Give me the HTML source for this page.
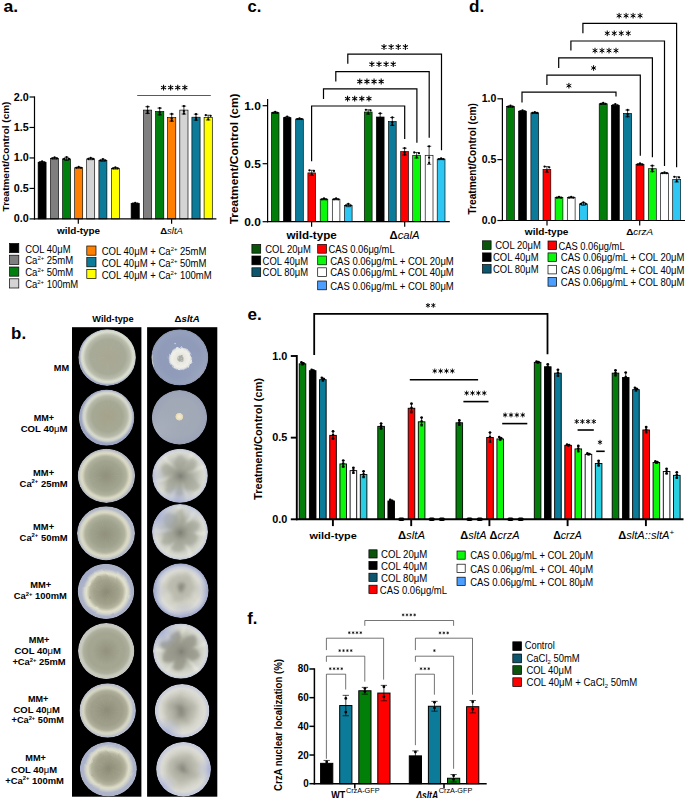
<!DOCTYPE html>
<html><head><meta charset="utf-8"><title>Figure</title>
<style>
html,body{margin:0;padding:0;background:#fff;}
body{width:685px;height:798px;overflow:hidden;}
svg{display:block;font-family:'Liberation Sans', sans-serif;}
</style></head><body>
<svg width="685" height="798" viewBox="0 0 685 798">
<defs>
<radialGradient id="w0a"><stop offset="0" stop-color="#aeb3c6"/><stop offset="0.8" stop-color="#aeb3c6"/><stop offset="1" stop-color="#a3a9c2"/></radialGradient>
<radialGradient id="w0t0" cx="-19.8" cy="19.8" r="16.8" gradientUnits="userSpaceOnUse"><stop offset="0" stop-color="#a2aac4" stop-opacity="0.8"/><stop offset="0.45" stop-color="#a2aac4" stop-opacity="0.36000000000000004"/><stop offset="1" stop-color="#a2aac4" stop-opacity="0"/></radialGradient>
<radialGradient id="w0c"><stop offset="0" stop-color="#a9a793"/><stop offset="0.04" stop-color="#a9a793"/><stop offset="0.5" stop-color="#a7aa97"/><stop offset="0.617" stop-color="#a7aa97"/><stop offset="0.786" stop-color="#b9bcab"/><stop offset="0.89" stop-color="#dadecf"/><stop offset="0.9420000000000001" stop-color="#dadecf" stop-opacity="0.85"/><stop offset="1" stop-color="#dadecf" stop-opacity="0"/></radialGradient>
<radialGradient id="w1a"><stop offset="0" stop-color="#a5acc4"/><stop offset="0.8" stop-color="#a5acc4"/><stop offset="1" stop-color="#9ba3c0"/></radialGradient>
<radialGradient id="w1t0" cx="-19.8" cy="19.8" r="16.8" gradientUnits="userSpaceOnUse"><stop offset="0" stop-color="#9ca5c4" stop-opacity="0.8"/><stop offset="0.45" stop-color="#9ca5c4" stop-opacity="0.36000000000000004"/><stop offset="1" stop-color="#9ca5c4" stop-opacity="0"/></radialGradient>
<radialGradient id="w1c"><stop offset="0" stop-color="#a5a38c"/><stop offset="0.04" stop-color="#a5a38c"/><stop offset="0.5" stop-color="#a5a893"/><stop offset="0.566" stop-color="#a5a893"/><stop offset="0.748" stop-color="#b6b9a7"/><stop offset="0.86" stop-color="#d6d9cc"/><stop offset="0.916" stop-color="#d6d9cc" stop-opacity="0.85"/><stop offset="1" stop-color="#d6d9cc" stop-opacity="0"/></radialGradient>
<radialGradient id="w2a"><stop offset="0" stop-color="#bcc0c6"/><stop offset="0.8" stop-color="#bcc0c6"/><stop offset="1" stop-color="#b2b6c0"/></radialGradient>
<radialGradient id="w2t0" cx="21.4" cy="-18.0" r="14.0" gradientUnits="userSpaceOnUse"><stop offset="0" stop-color="#b4bac8" stop-opacity="0.6"/><stop offset="0.45" stop-color="#b4bac8" stop-opacity="0.27"/><stop offset="1" stop-color="#b4bac8" stop-opacity="0"/></radialGradient>
<radialGradient id="w2c"><stop offset="0" stop-color="#92927e"/><stop offset="0.04" stop-color="#92927e"/><stop offset="0.5" stop-color="#a0a38e"/><stop offset="0.5449999999999999" stop-color="#a0a38e"/><stop offset="0.74" stop-color="#b0b29e"/><stop offset="0.86" stop-color="#dad9c4"/><stop offset="0.9199999999999999" stop-color="#dad9c4" stop-opacity="0.85"/><stop offset="1" stop-color="#dad9c4" stop-opacity="0"/></radialGradient>
<radialGradient id="w3a"><stop offset="0" stop-color="#b8bec9"/><stop offset="0.8" stop-color="#b8bec9"/><stop offset="1" stop-color="#b0b6c4"/></radialGradient>
<radialGradient id="w3t0" cx="24.2" cy="-14.0" r="16.8" gradientUnits="userSpaceOnUse"><stop offset="0" stop-color="#aeb6cc" stop-opacity="0.7"/><stop offset="0.45" stop-color="#aeb6cc" stop-opacity="0.315"/><stop offset="1" stop-color="#aeb6cc" stop-opacity="0"/></radialGradient>
<radialGradient id="w3c"><stop offset="0" stop-color="#92927e"/><stop offset="0.04" stop-color="#92927e"/><stop offset="0.5" stop-color="#9fa28d"/><stop offset="0.514" stop-color="#9fa28d"/><stop offset="0.722" stop-color="#b0b29e"/><stop offset="0.85" stop-color="#dad9c5"/><stop offset="0.9139999999999999" stop-color="#dad9c5" stop-opacity="0.85"/><stop offset="1" stop-color="#dad9c5" stop-opacity="0"/></radialGradient>
<radialGradient id="w4a"><stop offset="0" stop-color="#b0b6ca"/><stop offset="0.8" stop-color="#b0b6ca"/><stop offset="1" stop-color="#a8afc6"/></radialGradient>
<radialGradient id="w4t0" cx="-19.8" cy="-19.8" r="19.6" gradientUnits="userSpaceOnUse"><stop offset="0" stop-color="#9fa8c8" stop-opacity="0.7"/><stop offset="0.45" stop-color="#9fa8c8" stop-opacity="0.315"/><stop offset="1" stop-color="#9fa8c8" stop-opacity="0"/></radialGradient>
<radialGradient id="w4c"><stop offset="0" stop-color="#8e8d78"/><stop offset="0.04" stop-color="#8e8d78"/><stop offset="0.5" stop-color="#a2a28c"/><stop offset="0.443" stop-color="#a2a28c"/><stop offset="0.664" stop-color="#b4b49e"/><stop offset="0.8" stop-color="#e0e0cd"/><stop offset="0.8680000000000001" stop-color="#e0e0cd" stop-opacity="0.85"/><stop offset="1" stop-color="#e0e0cd" stop-opacity="0"/></radialGradient>
<radialGradient id="w5a"><stop offset="0" stop-color="#c6c8c6"/><stop offset="0.8" stop-color="#c6c8c6"/><stop offset="1" stop-color="#c0c3c6"/></radialGradient>
<radialGradient id="w5c"><stop offset="0" stop-color="#94937f"/><stop offset="0.04" stop-color="#94937f"/><stop offset="0.5" stop-color="#a4a692"/><stop offset="0.648" stop-color="#a4a692"/><stop offset="0.804" stop-color="#aeb09e"/><stop offset="0.9" stop-color="#c8cabc"/><stop offset="0.9480000000000001" stop-color="#c8cabc" stop-opacity="0.85"/><stop offset="1" stop-color="#c8cabc" stop-opacity="0"/></radialGradient>
<radialGradient id="w6a"><stop offset="0" stop-color="#c2c6cc"/><stop offset="0.8" stop-color="#c2c6cc"/><stop offset="1" stop-color="#b8bdca"/></radialGradient>
<radialGradient id="w6t0" cx="27.6" cy="4.9" r="16.8" gradientUnits="userSpaceOnUse"><stop offset="0" stop-color="#a8b2d0" stop-opacity="0.8"/><stop offset="0.45" stop-color="#a8b2d0" stop-opacity="0.36000000000000004"/><stop offset="1" stop-color="#a8b2d0" stop-opacity="0"/></radialGradient>
<radialGradient id="w6c"><stop offset="0" stop-color="#8f8e7a"/><stop offset="0.04" stop-color="#8f8e7a"/><stop offset="0.5" stop-color="#9e9e8a"/><stop offset="0.576" stop-color="#9e9e8a"/><stop offset="0.758" stop-color="#adad99"/><stop offset="0.87" stop-color="#d5d5c3"/><stop offset="0.926" stop-color="#d5d5c3" stop-opacity="0.85"/><stop offset="1" stop-color="#d5d5c3" stop-opacity="0"/></radialGradient>
<radialGradient id="w7a"><stop offset="0" stop-color="#b2b8cb"/><stop offset="0.8" stop-color="#b2b8cb"/><stop offset="1" stop-color="#aab1c8"/></radialGradient>
<radialGradient id="w7t0" cx="-26.3" cy="-9.6" r="16.8" gradientUnits="userSpaceOnUse"><stop offset="0" stop-color="#a4acce" stop-opacity="0.6"/><stop offset="0.45" stop-color="#a4acce" stop-opacity="0.27"/><stop offset="1" stop-color="#a4acce" stop-opacity="0"/></radialGradient>
<radialGradient id="w7c"><stop offset="0" stop-color="#8e8d78"/><stop offset="0.04" stop-color="#8e8d78"/><stop offset="0.5" stop-color="#a1a18c"/><stop offset="0.443" stop-color="#a1a18c"/><stop offset="0.664" stop-color="#b3b39e"/><stop offset="0.8" stop-color="#dcdcc9"/><stop offset="0.8680000000000001" stop-color="#dcdcc9" stop-opacity="0.85"/><stop offset="1" stop-color="#dcdcc9" stop-opacity="0"/></radialGradient>
<radialGradient id="s100a"><stop offset="0" stop-color="#909cb9"/><stop offset="0.7" stop-color="#8f9bb9"/><stop offset="0.92" stop-color="#95a0bc"/><stop offset="1" stop-color="#8893b1"/></radialGradient>
<radialGradient id="s100t" cx="21.4" cy="18.0" r="25.2" gradientUnits="userSpaceOnUse"><stop offset="0" stop-color="#a4acc0" stop-opacity="0.5"/><stop offset="0.45" stop-color="#a4acc0" stop-opacity="0.225"/><stop offset="1" stop-color="#a4acc0" stop-opacity="0"/></radialGradient>
<radialGradient id="s100c"><stop offset="0" stop-color="#c4c6be"/><stop offset="0.09" stop-color="#a9ada6"/><stop offset="0.2" stop-color="#abaea7"/><stop offset="0.3" stop-color="#e6e6de"/><stop offset="0.7" stop-color="#f0f0e8"/><stop offset="0.85" stop-color="#e8e9e6" stop-opacity="0.92"/><stop offset="0.94" stop-color="#d2d6e0" stop-opacity="0.5"/><stop offset="1" stop-color="#a0aac6" stop-opacity="0"/></radialGradient>
<radialGradient id="s101a"><stop offset="0" stop-color="#a3aab7"/><stop offset="0.7" stop-color="#a1a8b6"/><stop offset="0.93" stop-color="#9ca4b7"/><stop offset="1" stop-color="#929ab0"/></radialGradient>
<radialGradient id="s101t" cx="-24.2" cy="14.0" r="25.2" gradientUnits="userSpaceOnUse"><stop offset="0" stop-color="#b0b6c0" stop-opacity="0.7"/><stop offset="0.45" stop-color="#b0b6c0" stop-opacity="0.315"/><stop offset="1" stop-color="#b0b6c0" stop-opacity="0"/></radialGradient>
<radialGradient id="s101c"><stop offset="0" stop-color="#f4eed8"/><stop offset="0.55" stop-color="#ece2bf"/><stop offset="0.85" stop-color="#e2d8b8"/><stop offset="1" stop-color="#c8c4b8" stop-opacity="0"/></radialGradient>
<radialGradient id="s102a"><stop offset="0" stop-color="#7e7e74"/><stop offset="0.2" stop-color="#96978b"/><stop offset="0.5" stop-color="#b5b7ab"/><stop offset="0.74" stop-color="#cfd0c6"/><stop offset="0.87" stop-color="#d8dad3"/><stop offset="0.94" stop-color="#cfd3da"/><stop offset="1" stop-color="#bcc2d6"/></radialGradient>
<radialGradient id="s102k"><stop offset="0" stop-color="#7e7e74" stop-opacity="0.9"/><stop offset="0.5" stop-color="#8c8c82" stop-opacity="0.5"/><stop offset="1" stop-color="#9a9a90" stop-opacity="0"/></radialGradient>
<radialGradient id="s102t0" cx="-2.4" cy="27.9" r="19.6" gradientUnits="userSpaceOnUse"><stop offset="0" stop-color="#a3acd3" stop-opacity="0.9"/><stop offset="0.45" stop-color="#a3acd3" stop-opacity="0.405"/><stop offset="1" stop-color="#a3acd3" stop-opacity="0"/></radialGradient>
<radialGradient id="s102t1" cx="-28.0" cy="0.0" r="14.0" gradientUnits="userSpaceOnUse"><stop offset="0" stop-color="#aeb6dc" stop-opacity="0.6"/><stop offset="0.45" stop-color="#aeb6dc" stop-opacity="0.27"/><stop offset="1" stop-color="#aeb6dc" stop-opacity="0"/></radialGradient>
<radialGradient id="s103a"><stop offset="0" stop-color="#7e7e74"/><stop offset="0.2" stop-color="#96978b"/><stop offset="0.5" stop-color="#b5b7ab"/><stop offset="0.74" stop-color="#cfd0c6"/><stop offset="0.87" stop-color="#d8dad3"/><stop offset="0.94" stop-color="#cfd3da"/><stop offset="1" stop-color="#bcc2d6"/></radialGradient>
<radialGradient id="s103k"><stop offset="0" stop-color="#7e7e74" stop-opacity="0.9"/><stop offset="0.5" stop-color="#8c8c82" stop-opacity="0.5"/><stop offset="1" stop-color="#9a9a90" stop-opacity="0"/></radialGradient>
<radialGradient id="s103t0" cx="-22.9" cy="-16.1" r="22.4" gradientUnits="userSpaceOnUse"><stop offset="0" stop-color="#a3acd3" stop-opacity="0.9"/><stop offset="0.45" stop-color="#a3acd3" stop-opacity="0.405"/><stop offset="1" stop-color="#a3acd3" stop-opacity="0"/></radialGradient>
<radialGradient id="s103t1" cx="14.0" cy="-24.2" r="14.0" gradientUnits="userSpaceOnUse"><stop offset="0" stop-color="#b4bcdc" stop-opacity="0.5"/><stop offset="0.45" stop-color="#b4bcdc" stop-opacity="0.225"/><stop offset="1" stop-color="#b4bcdc" stop-opacity="0"/></radialGradient>
<radialGradient id="s104a"><stop offset="0" stop-color="#cfcfc5"/><stop offset="0.6" stop-color="#d6d6cc"/><stop offset="0.74" stop-color="#dcdcd6"/><stop offset="0.86" stop-color="#c8ccda"/><stop offset="1" stop-color="#9aa3c6"/></radialGradient>
<radialGradient id="s104c"><stop offset="0" stop-color="#84847a"/><stop offset="0.12" stop-color="#8f8f84"/><stop offset="0.32" stop-color="#b9b9ad"/><stop offset="0.62" stop-color="#b8b8ac" stop-opacity="0.85"/><stop offset="1" stop-color="#d2d2c8" stop-opacity="0"/></radialGradient>
<radialGradient id="s104t0" cx="-28.0" cy="0.0" r="14.0" gradientUnits="userSpaceOnUse"><stop offset="0" stop-color="#9ca5c4" stop-opacity="0.6"/><stop offset="0.45" stop-color="#9ca5c4" stop-opacity="0.27"/><stop offset="1" stop-color="#9ca5c4" stop-opacity="0"/></radialGradient>
<radialGradient id="s104t1" cx="4.9" cy="27.6" r="16.8" gradientUnits="userSpaceOnUse"><stop offset="0" stop-color="#9ca5c4" stop-opacity="0.6"/><stop offset="0.45" stop-color="#9ca5c4" stop-opacity="0.27"/><stop offset="1" stop-color="#9ca5c4" stop-opacity="0"/></radialGradient>
<radialGradient id="s104t2" cx="28.0" cy="0.0" r="14.0" gradientUnits="userSpaceOnUse"><stop offset="0" stop-color="#9ca5c4" stop-opacity="0.55"/><stop offset="0.45" stop-color="#9ca5c4" stop-opacity="0.24750000000000003"/><stop offset="1" stop-color="#9ca5c4" stop-opacity="0"/></radialGradient>
<radialGradient id="s105a"><stop offset="0" stop-color="#7e7e74"/><stop offset="0.2" stop-color="#96978b"/><stop offset="0.5" stop-color="#b5b7ab"/><stop offset="0.74" stop-color="#cfd0c6"/><stop offset="0.87" stop-color="#d8dad3"/><stop offset="0.94" stop-color="#cfd3da"/><stop offset="1" stop-color="#bcc2d6"/></radialGradient>
<radialGradient id="s105k"><stop offset="0" stop-color="#7e7e74" stop-opacity="0.9"/><stop offset="0.5" stop-color="#8c8c82" stop-opacity="0.5"/><stop offset="1" stop-color="#9a9a90" stop-opacity="0"/></radialGradient>
<radialGradient id="s105t0" cx="-19.8" cy="-19.8" r="19.6" gradientUnits="userSpaceOnUse"><stop offset="0" stop-color="#a3acd3" stop-opacity="0.9"/><stop offset="0.45" stop-color="#a3acd3" stop-opacity="0.405"/><stop offset="1" stop-color="#a3acd3" stop-opacity="0"/></radialGradient>
<radialGradient id="s106a"><stop offset="0" stop-color="#cfcfc5"/><stop offset="0.6" stop-color="#d6d6cc"/><stop offset="0.83" stop-color="#dcdcd6"/><stop offset="0.95" stop-color="#c8ccda"/><stop offset="1" stop-color="#cfd2da"/></radialGradient>
<radialGradient id="s106c"><stop offset="0" stop-color="#85857b"/><stop offset="0.12" stop-color="#8f8f84"/><stop offset="0.32" stop-color="#a6a69a"/><stop offset="0.62" stop-color="#b8b8ac" stop-opacity="0.85"/><stop offset="1" stop-color="#d2d2c8" stop-opacity="0"/></radialGradient>
<radialGradient id="s106t0" cx="-16.1" cy="22.9" r="16.8" gradientUnits="userSpaceOnUse"><stop offset="0" stop-color="#a3acd3" stop-opacity="0.85"/><stop offset="0.45" stop-color="#a3acd3" stop-opacity="0.3825"/><stop offset="1" stop-color="#a3acd3" stop-opacity="0"/></radialGradient>
<radialGradient id="s107a"><stop offset="0" stop-color="#cfcfc5"/><stop offset="0.6" stop-color="#d6d6cc"/><stop offset="0.81" stop-color="#dcdcd6"/><stop offset="0.93" stop-color="#c8ccda"/><stop offset="1" stop-color="#c4c9da"/></radialGradient>
<radialGradient id="s107c"><stop offset="0" stop-color="#7e7e74"/><stop offset="0.12" stop-color="#8f8f84"/><stop offset="0.32" stop-color="#aaaa9e"/><stop offset="0.62" stop-color="#b8b8ac" stop-opacity="0.85"/><stop offset="1" stop-color="#d2d2c8" stop-opacity="0"/></radialGradient>
<radialGradient id="s107t0" cx="28.0" cy="0.0" r="15.4" gradientUnits="userSpaceOnUse"><stop offset="0" stop-color="#a3acd3" stop-opacity="0.8"/><stop offset="0.45" stop-color="#a3acd3" stop-opacity="0.36000000000000004"/><stop offset="1" stop-color="#a3acd3" stop-opacity="0"/></radialGradient>
<radialGradient id="s107t1" cx="-21.4" cy="18.0" r="14.0" gradientUnits="userSpaceOnUse"><stop offset="0" stop-color="#a8b0dc" stop-opacity="0.7"/><stop offset="0.45" stop-color="#a8b0dc" stop-opacity="0.315"/><stop offset="1" stop-color="#a8b0dc" stop-opacity="0"/></radialGradient>
<clipPath id="unitclip"><circle cx="0" cy="0" r="28"/></clipPath>
<filter id="wav" color-interpolation-filters="sRGB" x="-20%" y="-20%" width="140%" height="140%"><feTurbulence type="fractalNoise" baseFrequency="0.075" numOctaves="1" seed="4" result="tn"/><feDisplacementMap in="SourceGraphic" in2="tn" scale="3.4" xChannelSelector="R" yChannelSelector="G"/><feGaussianBlur stdDeviation="0.5"/></filter>
<filter id="frz" color-interpolation-filters="sRGB" x="-30%" y="-30%" width="160%" height="160%"><feTurbulence type="fractalNoise" baseFrequency="0.3" numOctaves="2" seed="9" result="tn"/><feDisplacementMap in="SourceGraphic" in2="tn" scale="3.2" xChannelSelector="R" yChannelSelector="G"/><feGaussianBlur stdDeviation="0.45"/></filter>
<filter id="b05" x="-50%" y="-50%" width="200%" height="200%"><feGaussianBlur stdDeviation="0.5"/></filter>
<filter id="org0" color-interpolation-filters="sRGB" x="-20%" y="-20%" width="140%" height="140%"><feTurbulence type="fractalNoise" baseFrequency="0.06" numOctaves="2" seed="3" result="tn"/><feDisplacementMap in="SourceGraphic" in2="tn" scale="9" xChannelSelector="R" yChannelSelector="G"/><feGaussianBlur stdDeviation="1.6"/></filter>
<filter id="org1" color-interpolation-filters="sRGB" x="-20%" y="-20%" width="140%" height="140%"><feTurbulence type="fractalNoise" baseFrequency="0.06" numOctaves="2" seed="10" result="tn"/><feDisplacementMap in="SourceGraphic" in2="tn" scale="9" xChannelSelector="R" yChannelSelector="G"/><feGaussianBlur stdDeviation="1.6"/></filter>
<filter id="org2" color-interpolation-filters="sRGB" x="-20%" y="-20%" width="140%" height="140%"><feTurbulence type="fractalNoise" baseFrequency="0.06" numOctaves="2" seed="17" result="tn"/><feDisplacementMap in="SourceGraphic" in2="tn" scale="9" xChannelSelector="R" yChannelSelector="G"/><feGaussianBlur stdDeviation="1.6"/></filter>
<filter id="b15" x="-20%" y="-20%" width="140%" height="140%"><feGaussianBlur stdDeviation="1.6"/></filter>
</defs>
<rect x="0" y="0" width="685" height="798" fill="#ffffff"/>
<text x="11.10" y="338.60" font-size="16" font-weight="bold" font-style="normal" text-anchor="start" fill="#000" textLength="15.00" lengthAdjust="spacingAndGlyphs" >b.</text>
<text x="92.30" y="322.40" font-size="9.3" font-weight="bold" font-style="normal" text-anchor="start" fill="#000" textLength="41.30" lengthAdjust="spacingAndGlyphs" >Wild-type</text>
<text x="174.60" y="322.40" font-size="9.3" font-weight="bold" font-style="normal" text-anchor="start" fill="#000" textLength="25.20" lengthAdjust="spacingAndGlyphs" ><tspan dy="0.00">Δ</tspan><tspan dy="0.00" font-style="italic">sltA</tspan></text>
<rect x="72.0" y="327.2" width="69.4" height="469.5" fill="#000"/>
<rect x="147.1" y="327.2" width="70.2" height="469.5" fill="#000"/>
<g transform="translate(107.10 357.60) scale(1.0286 1.0107)"><g clip-path="url(#unitclip)">
<circle cx="0" cy="0" r="28" fill="url(#w0a)"/>
<circle cx="0" cy="0" r="28" fill="url(#w0t0)"/>
<circle cx="0.8" cy="-0.8" r="27.6" fill="url(#w0c)"/>
<path d="M4.6 -6.4L10.9 -15.8M0.5 4.5L-0.2 17.1M1.7 -4.8L4.7 -18.9M-5.9 -4.7L-15.4 -10.1M-0.6 5.9L-3.1 18.3M0.8 6.9L0.7 21.2M3.6 -7.9L7.2 -16.9M-0.2 -8.4L-1.7 -20.5M-2.0 -0.3L-17.1 2.4M-5.1 -5.8L-16.0 -14.8M-6.6 0.3L-16.0 1.6M2.7 -6.0L6.0 -15.2M-0.1 -5.3L-3.2 -21.3M-0.3 -2.7L-8.3 -17.0M3.3 -3.5L12.5 -13.7M3.1 -3.2L13.9 -14.7M1.4 7.3L2.3 19.9M-1.8 0.1L-15.7 4.8M-7.1 -1.2L-15.1 -1.6M-5.4 -2.9L-17.2 -6.8M3.0 -5.8L9.4 -20.9M-3.8 -4.3L-13.7 -11.8" stroke="#c4c6b4" stroke-width="0.45" opacity="0.13" fill="none"/>
</g></g>
<g transform="translate(106.60 417.60) scale(0.9929 1.0071)"><g clip-path="url(#unitclip)">
<circle cx="0" cy="0" r="28" fill="url(#w1a)"/>
<circle cx="0" cy="0" r="28" fill="url(#w1t0)"/>
<circle cx="0.8" cy="-1.2" r="26.6" fill="url(#w1c)"/>
<path d="M5.5 4.1L13.9 13.5M0.6 3.8L0.2 16.4M-3.1 -6.7L-8.0 -13.6M7.7 0.0L18.0 1.9M1.0 -3.3L2.2 -18.7M0.2 -4.6L-2.9 -21.8M2.7 -2.5L12.8 -9.8M-6.6 -3.2L-15.8 -5.6M1.8 3.3L3.9 13.3M1.6 3.4L4.0 16.4M1.2 2.3L2.5 14.8M-2.9 -0.2L-13.5 2.5M3.6 -5.8L10.7 -17.3M3.9 6.1L8.8 17.5M3.8 1.6L14.9 12.2M-1.0 -8.6L-3.4 -18.1M3.7 -6.5L8.8 -15.8M-5.4 -5.0L-16.5 -11.8M-4.8 -1.4L-14.1 -1.7M1.1 5.6L1.6 16.2M3.3 3.5L9.8 15.9M-1.2 -5.0L-7.2 -16.8" stroke="#c4c6b4" stroke-width="0.45" opacity="0.13" fill="none"/>
</g></g>
<g transform="translate(106.40 475.80) scale(1.0250 0.9679)"><g clip-path="url(#unitclip)">
<circle cx="0" cy="0" r="28" fill="url(#w2a)"/>
<circle cx="0" cy="0" r="28" fill="url(#w2t0)"/>
<circle cx="-0.6" cy="0.0" r="27.0" fill="url(#w2c)"/>
<path d="M6.9 -2.1L14.1 -4.2M5.5 3.6L16.5 10.1M-2.5 -3.5L-9.8 -16.6M-5.0 -3.5L-13.1 -9.9M-4.7 1.9L-18.5 8.3M7.2 -0.3L17.9 -0.6M-4.1 1.3L-14.8 5.1M4.2 0.8L16.1 2.9M-6.0 5.1L-14.0 12.6M-3.9 -1.3L-14.5 -5.6M-2.0 2.6L-8.9 16.3M5.6 -0.1L15.5 -0.1M4.8 -4.3L14.9 -12.3M5.0 -3.7L16.2 -11.2M-5.4 6.3L-13.6 17.0M2.9 5.6L9.8 16.7M-5.8 1.3L-18.2 4.4M4.0 -2.3L17.6 -9.3M-5.1 5.9L-13.3 16.6M-6.0 1.3L-21.0 5.1M-1.4 -5.0L-3.3 -16.1M-3.5 5.6L-7.8 14.2" stroke="#c4c6b4" stroke-width="0.45" opacity="0.13" fill="none"/>
</g></g>
<g transform="translate(106.00 533.30) scale(1.0357 0.9679)"><g clip-path="url(#unitclip)">
<circle cx="0" cy="0" r="28" fill="url(#w3a)"/>
<circle cx="0" cy="0" r="28" fill="url(#w3t0)"/>
<circle cx="-1.0" cy="0.8" r="26.2" fill="url(#w3c)"/>
<path d="M-0.6 6.0L0.3 17.6M-5.5 -2.7L-12.8 -8.2M5.9 1.4L15.1 2.1M-0.2 8.6L0.7 18.2M1.5 -3.3L8.6 -15.1M2.4 5.5L10.7 17.1M-7.3 -0.1L-19.6 -1.9M5.0 3.3L15.8 8.0M-1.7 3.0L-7.4 19.8M-7.1 1.9L-20.9 4.2M-2.7 -6.4L-4.8 -15.8M0.5 -3.6L5.5 -18.7M0.9 -1.0L10.1 -9.8M0.6 8.3L2.6 17.7M-3.7 -1.9L-13.4 -11.9M-4.1 3.5L-14.7 12.8M-7.3 -2.9L-17.3 -8.7M5.3 -2.2L17.9 -8.2M-2.4 -1.9L-10.5 -16.8M6.1 -0.8L16.7 -3.2M-1.7 -2.4L-5.5 -18.5M-4.3 -0.9L-14.3 -5.8" stroke="#c4c6b4" stroke-width="0.45" opacity="0.13" fill="none"/>
</g></g>
<g transform="translate(106.00 591.40) scale(1.0107 0.9893)"><g clip-path="url(#unitclip)">
<circle cx="0" cy="0" r="28" fill="url(#w4a)"/>
<circle cx="0" cy="0" r="28" fill="url(#w4t0)"/>
<circle cx="0.4" cy="0.8" r="24.6" fill="url(#w4c)" filter="url(#wav)"/>
<path d="M0.6 3.3L1.8 16.7M1.7 2.7L9.4 14.0M5.9 -2.3L16.3 -8.2M1.3 5.6L3.1 15.8M1.6 3.0L7.3 13.9M6.2 -2.0L17.0 -7.3M1.3 -2.1L5.2 -13.9M-3.7 -3.4L-12.7 -12.6M2.2 -0.9L13.0 -11.0M-1.8 -3.3L-6.5 -12.1M-2.0 1.2L-18.6 4.0M3.7 -2.9L10.6 -10.7M4.7 -1.9L16.3 -9.5M3.1 -3.1L9.7 -12.3M-3.1 -1.7L-11.4 -7.7M-1.8 6.8L-4.3 13.8M5.5 2.3L15.0 5.2M-4.0 -0.2L-14.9 -2.6M3.4 0.7L16.5 0.5M2.0 6.0L4.9 15.4M-3.3 5.5L-9.2 13.0M-6.0 -1.7L-12.8 -4.3" stroke="#c4c6b4" stroke-width="0.45" opacity="0.13" fill="none"/>
</g></g>
<g transform="translate(106.20 651.10) scale(1.0071 1.0000)"><g clip-path="url(#unitclip)">
<circle cx="0" cy="0" r="28" fill="url(#w5a)"/>
<circle cx="0.0" cy="0.0" r="27.8" fill="url(#w5c)"/>
<path d="M-4.8 -4.7L-14.9 -14.5M6.3 -2.4L20.3 -7.7M5.0 0.9L21.5 4.0M-4.6 -6.2L-9.5 -12.9M-3.7 0.7L-18.7 3.7M-2.1 -1.0L-15.0 -7.5M-1.4 7.7L-3.8 20.3M3.8 6.0L8.7 13.7M-2.2 -2.0L-11.3 -10.3M2.4 -2.5L11.6 -12.1M7.5 -0.8L17.2 -1.9M5.4 -1.3L19.4 -4.8M2.2 7.7L5.6 19.3M7.5 -1.6L17.0 -3.6M-2.1 2.5L-10.5 12.5M3.7 1.6L17.9 7.8M6.4 0.1L17.6 0.4M-2.7 6.7L-6.9 17.3M-2.1 4.7L-8.1 18.5M7.7 2.9L14.5 5.4M-0.0 -7.4L-0.0 -15.4M1.0 -4.3L4.5 -18.8" stroke="#c4c6b4" stroke-width="0.45" opacity="0.13" fill="none"/>
</g></g>
<g transform="translate(107.70 710.50) scale(1.0071 0.9714)"><g clip-path="url(#unitclip)">
<circle cx="0" cy="0" r="28" fill="url(#w6a)"/>
<circle cx="0" cy="0" r="28" fill="url(#w6t0)"/>
<circle cx="-1.0" cy="0.0" r="26.6" fill="url(#w6c)"/>
<path d="M0.9 -6.7L3.8 -17.2M-1.2 2.1L-2.4 19.0M-7.5 1.2L-17.8 3.2M-0.5 -3.7L1.5 -19.8M-1.6 -4.5L-3.3 -18.1M-2.3 -3.0L-8.6 -16.7M0.2 -3.5L5.8 -18.8M-3.8 -6.5L-7.6 -15.5M4.7 3.8L15.7 11.0M-3.5 0.9L-16.0 5.4M-3.5 -2.9L-14.9 -15.7M-3.8 -1.7L-17.1 -10.0M-5.8 5.8L-14.2 15.9M-6.9 -0.5L-20.2 -1.8M1.7 -7.4L4.1 -13.9M-4.6 4.3L-11.7 12.7M-3.2 -1.4L-18.4 -10.9M-3.8 -0.4L-19.8 -3.0M-2.2 3.0L-7.8 16.5M1.2 2.6L12.2 15.6M-1.7 -2.1L-7.3 -18.8M3.1 0.4L19.5 2.2" stroke="#c4c6b4" stroke-width="0.45" opacity="0.13" fill="none"/>
</g></g>
<g transform="translate(108.40 769.20) scale(1.0179 0.9750)"><g clip-path="url(#unitclip)">
<circle cx="0" cy="0" r="28" fill="url(#w7a)"/>
<circle cx="0" cy="0" r="28" fill="url(#w7t0)"/>
<circle cx="0.0" cy="-0.8" r="25.0" fill="url(#w7c)" filter="url(#wav)"/>
<path d="M-1.3 1.7L-8.0 15.1M4.4 1.4L14.4 6.2M4.5 0.9L13.1 4.2M-2.2 0.2L-13.1 5.0M-5.8 2.2L-12.9 5.8M0.9 4.6L3.3 18.6M-3.7 -2.7L-17.6 -10.0M6.4 1.1L14.9 3.7M1.6 1.3L9.7 11.5M1.2 -3.5L7.0 -16.7M-2.6 -3.9L-11.0 -14.0M2.1 0.1L13.9 5.0M-1.8 -4.7L-6.7 -15.0M-3.9 -3.1L-13.4 -8.8M1.6 -6.4L4.2 -15.5M-4.4 -3.0L-17.2 -9.5M-0.5 -4.4L-2.6 -20.5M3.2 2.1L13.6 11.7M2.7 3.0L8.1 10.6M-3.1 -6.2L-8.5 -15.9M2.6 -3.4L12.8 -13.6M-4.3 -3.7L-13.8 -10.1" stroke="#c4c6b4" stroke-width="0.45" opacity="0.13" fill="none"/>
</g></g>
<g transform="translate(179.80 357.40) scale(1.0179 1.0071)"><g clip-path="url(#unitclip)">
<circle cx="0" cy="0" r="28" fill="url(#s100a)"/>
<circle cx="0" cy="0" r="28" fill="url(#s100t)"/>
<path d="M-27.15 -2.4 A27.3 27.3 0 0 0 -25.9 8.6" stroke="#ece8d4" stroke-width="0.8" fill="none" opacity="0.75" stroke-linecap="round"/>
<circle cx="0.6" cy="1.2" r="12.2" fill="url(#s100c)" filter="url(#frz)"/>
<circle cx="-4.6" cy="-13.7" r="0.7" fill="#e4e8f0"/>
</g></g>
<g transform="translate(179.50 417.40) scale(0.9893 0.9750)"><g clip-path="url(#unitclip)">
<circle cx="0" cy="0" r="28" fill="url(#s101a)"/>
<circle cx="0" cy="0" r="28" fill="url(#s101t)"/>
<circle cx="-0.2" cy="-0.7" r="4.3" fill="url(#s101c)"/>
</g></g>
<g transform="translate(180.10 475.80) scale(0.9929 0.9643)"><g clip-path="url(#unitclip)">
<circle cx="0" cy="0" r="28" fill="url(#s102a)"/>
<g filter="url(#org0)">
<ellipse cx="0.6" cy="10.9" rx="10.3" ry="6.3" transform="rotate(86.9 0.6 10.9)" fill="#a2a598" opacity="0.6"/>
<polygon points="-2.1,5.2 -8.2,24.4 -11.0,23.3" fill="#ecece2" opacity="0.8"/>
<ellipse cx="-7.9" cy="8.9" rx="9.5" ry="5.5" transform="rotate(131.7 -7.9 8.9)" fill="#a2a598" opacity="0.6"/>
<polygon points="-5.5,1.2 -24.8,7.1 -25.4,4.1" fill="#ecece2" opacity="0.8"/>
<ellipse cx="-10.9" cy="-5.0" rx="10.0" ry="6.3" transform="rotate(204.8 -10.9 -5.0)" fill="#a2a598" opacity="0.6"/>
<polygon points="-3.5,-4.3 -17.5,-18.9 -15.1,-20.9" fill="#ecece2" opacity="0.8"/>
<ellipse cx="-0.1" cy="-12.0" rx="10.1" ry="6.5" transform="rotate(269.5 -0.1 -12.0)" fill="#a2a598" opacity="0.6"/>
<polygon points="2.9,-4.8 12.1,-22.7 14.7,-21.1" fill="#ecece2" opacity="0.8"/>
<ellipse cx="8.1" cy="-8.6" rx="10.3" ry="5.6" transform="rotate(313.1 8.1 -8.6)" fill="#a2a598" opacity="0.6"/>
<polygon points="5.2,-2.1 23.2,-11.2 24.4,-8.3" fill="#ecece2" opacity="0.8"/>
<ellipse cx="9.0" cy="6.6" rx="10.6" ry="6.8" transform="rotate(396.1 9.0 6.6)" fill="#a2a598" opacity="0.6"/>
<polygon points="2.0,5.2 10.8,23.4 8.0,24.5" fill="#ecece2" opacity="0.8"/>
</g>
<circle cx="0.5" cy="0.5" r="9" fill="url(#s102k)"/>
<circle cx="0" cy="0" r="28" fill="url(#s102t0)"/>
<circle cx="0" cy="0" r="28" fill="url(#s102t1)"/>
</g></g>
<g transform="translate(180.00 532.00) scale(1.0000 1.0000)"><g clip-path="url(#unitclip)">
<circle cx="0" cy="0" r="28" fill="url(#s103a)"/>
<g filter="url(#org2)">
<ellipse cx="-7.5" cy="-9.2" rx="11.1" ry="6.5" transform="rotate(231.1 -7.5 -9.2)" fill="#a2a598" opacity="0.6"/>
<polygon points="-0.4,-5.6 -3.4,-25.5 -0.3,-25.8" fill="#ecece2" opacity="0.8"/>
<ellipse cx="0.1" cy="-11.1" rx="11.1" ry="6.3" transform="rotate(270.6 0.1 -11.1)" fill="#a2a598" opacity="0.6"/>
<polygon points="3.2,-4.6 13.6,-21.9 16.1,-20.1" fill="#ecece2" opacity="0.8"/>
<ellipse cx="9.9" cy="-5.0" rx="9.5" ry="6.1" transform="rotate(333.1 9.9 -5.0)" fill="#a2a598" opacity="0.6"/>
<polygon points="5.6,0.4 25.8,0.2 25.5,3.3" fill="#ecece2" opacity="0.8"/>
<ellipse cx="9.1" cy="5.3" rx="9.6" ry="6.8" transform="rotate(390.2 9.1 5.3)" fill="#a2a598" opacity="0.6"/>
<polygon points="2.5,5.0 13.0,22.3 10.2,23.7" fill="#ecece2" opacity="0.8"/>
<ellipse cx="-0.9" cy="11.8" rx="9.3" ry="6.3" transform="rotate(454.4 -0.9 11.8)" fill="#a2a598" opacity="0.6"/>
<polygon points="-2.8,4.8 -11.6,23.0 -14.2,21.5" fill="#ecece2" opacity="0.8"/>
<ellipse cx="-10.4" cy="6.0" rx="9.4" ry="5.5" transform="rotate(509.9 -10.4 6.0)" fill="#a2a598" opacity="0.6"/>
<polygon points="-5.6,-0.5 -25.7,-0.9 -25.5,-4.0" fill="#ecece2" opacity="0.8"/>
</g>
<circle cx="0.5" cy="0.5" r="9" fill="url(#s103k)"/>
<circle cx="0" cy="0" r="28" fill="url(#s103t0)"/>
<circle cx="0" cy="0" r="28" fill="url(#s103t1)"/>
</g></g>
<g transform="translate(180.80 590.60) scale(0.9929 0.9750)"><g clip-path="url(#unitclip)">
<circle cx="0" cy="0" r="28" fill="url(#s104a)"/>
<circle cx="0.0" cy="-2.6" r="19.0" fill="url(#s104c)" filter="url(#org1)"/>
<circle cx="0" cy="0" r="28" fill="url(#s104t0)"/>
<circle cx="0" cy="0" r="28" fill="url(#s104t1)"/>
<circle cx="0" cy="0" r="28" fill="url(#s104t2)"/>
</g></g>
<g transform="translate(180.80 651.10) scale(0.9929 0.9893)"><g clip-path="url(#unitclip)">
<circle cx="0" cy="0" r="28" fill="url(#s105a)"/>
<g filter="url(#org2)">
<ellipse cx="-0.9" cy="10.3" rx="10.5" ry="5.2" transform="rotate(94.8 -0.9 10.3)" fill="#969689" opacity="0.78"/>
<polygon points="-3.0,4.8 -12.3,22.6 -14.9,21.0" fill="#ecece2" opacity="0.8"/>
<ellipse cx="-9.6" cy="4.3" rx="10.4" ry="5.9" transform="rotate(155.9 -9.6 4.3)" fill="#969689" opacity="0.78"/>
<polygon points="-5.6,-0.5 -25.7,-0.9 -25.5,-3.9" fill="#ecece2" opacity="0.8"/>
<ellipse cx="-9.8" cy="-3.8" rx="10.8" ry="5.2" transform="rotate(201.4 -9.8 -3.8)" fill="#969689" opacity="0.78"/>
<polygon points="-3.7,-4.2 -18.2,-18.2 -15.9,-20.2" fill="#ecece2" opacity="0.8"/>
<ellipse cx="-4.0" cy="-9.9" rx="9.9" ry="6.8" transform="rotate(247.8 -4.0 -9.9)" fill="#969689" opacity="0.78"/>
<polygon points="0.6,-5.6 1.3,-25.7 4.4,-25.4" fill="#ecece2" opacity="0.8"/>
<ellipse cx="6.9" cy="-8.1" rx="11.2" ry="5.2" transform="rotate(310.5 6.9 -8.1)" fill="#969689" opacity="0.78"/>
<polygon points="5.3,-1.7 24.0,-9.5 24.9,-6.5" fill="#ecece2" opacity="0.8"/>
<ellipse cx="11.0" cy="3.6" rx="9.7" ry="6.4" transform="rotate(378.1 11.0 3.6)" fill="#969689" opacity="0.78"/>
<polygon points="3.7,4.2 18.3,18.1 16.0,20.2" fill="#ecece2" opacity="0.8"/>
</g>
<circle cx="0.5" cy="0.5" r="9" fill="url(#s105k)"/>
<circle cx="0" cy="0" r="28" fill="url(#s105t0)"/>
</g></g>
<g transform="translate(182.10 710.90) scale(0.9750 0.9607)"><g clip-path="url(#unitclip)">
<circle cx="0" cy="0" r="28" fill="url(#s106a)"/>
<circle cx="-1.5" cy="-1.0" r="22.5" fill="url(#s106c)" filter="url(#org2)"/>
<circle cx="0" cy="0" r="28" fill="url(#s106t0)"/>
</g></g>
<g transform="translate(183.50 769.30) scale(0.9786 0.9786)"><g clip-path="url(#unitclip)">
<circle cx="0" cy="0" r="28" fill="url(#s107a)"/>
<circle cx="-1.0" cy="0.0" r="22.0" fill="url(#s107c)" filter="url(#org0)"/>
<circle cx="0" cy="0" r="28" fill="url(#s107t0)"/>
<circle cx="0" cy="0" r="28" fill="url(#s107t1)"/>
</g></g>
<text x="53.80" y="370.80" font-size="9.3" font-weight="bold" font-style="normal" text-anchor="start" fill="#000" textLength="15.30" lengthAdjust="spacingAndGlyphs" >MM</text>
<text x="33.70" y="420.60" font-size="9.3" font-weight="bold" font-style="normal" text-anchor="start" fill="#000" textLength="20.40" lengthAdjust="spacingAndGlyphs" >MM+</text>
<text x="20.70" y="431.50" font-size="9.3" font-weight="bold" font-style="normal" text-anchor="start" fill="#000" textLength="46.90" lengthAdjust="spacingAndGlyphs" ><tspan dy="0.00">COL 40</tspan><tspan dy="0.00" font-weight="normal">μ</tspan><tspan dy="0.00">M</tspan></text>
<text x="33.10" y="476.10" font-size="9.3" font-weight="bold" font-style="normal" text-anchor="start" fill="#000" textLength="21.00" lengthAdjust="spacingAndGlyphs" >MM+</text>
<text x="19.60" y="486.80" font-size="9.3" font-weight="bold" font-style="normal" text-anchor="start" fill="#000" textLength="48.00" lengthAdjust="spacingAndGlyphs" ><tspan dy="0.00">Ca</tspan><tspan dy="-3.53" font-size="5.77">2+</tspan><tspan dy="3.53"> 25mM</tspan></text>
<text x="33.10" y="529.90" font-size="9.3" font-weight="bold" font-style="normal" text-anchor="start" fill="#000" textLength="21.00" lengthAdjust="spacingAndGlyphs" >MM+</text>
<text x="19.60" y="540.60" font-size="9.3" font-weight="bold" font-style="normal" text-anchor="start" fill="#000" textLength="48.00" lengthAdjust="spacingAndGlyphs" ><tspan dy="0.00">Ca</tspan><tspan dy="-3.53" font-size="5.77">2+</tspan><tspan dy="3.53"> 50mM</tspan></text>
<text x="30.20" y="588.10" font-size="9.3" font-weight="bold" font-style="normal" text-anchor="start" fill="#000" textLength="21.00" lengthAdjust="spacingAndGlyphs" >MM+</text>
<text x="13.80" y="599.10" font-size="9.3" font-weight="bold" font-style="normal" text-anchor="start" fill="#000" textLength="53.00" lengthAdjust="spacingAndGlyphs" ><tspan dy="0.00">Ca</tspan><tspan dy="-3.53" font-size="5.77">2+</tspan><tspan dy="3.53"> 100mM</tspan></text>
<text x="28.80" y="643.40" font-size="9.3" font-weight="bold" font-style="normal" text-anchor="start" fill="#000" textLength="20.70" lengthAdjust="spacingAndGlyphs" >MM+</text>
<text x="14.40" y="654.30" font-size="9.3" font-weight="bold" font-style="normal" text-anchor="start" fill="#000" textLength="46.60" lengthAdjust="spacingAndGlyphs" ><tspan dy="0.00">COL 40</tspan><tspan dy="0.00" font-weight="normal">μ</tspan><tspan dy="0.00">M</tspan></text>
<text x="12.40" y="665.30" font-size="9.3" font-weight="bold" font-style="normal" text-anchor="start" fill="#000" textLength="53.20" lengthAdjust="spacingAndGlyphs" ><tspan dy="0.00">+Ca</tspan><tspan dy="-3.53" font-size="5.77">2+</tspan><tspan dy="3.53"> 25mM</tspan></text>
<text x="27.90" y="701.80" font-size="9.3" font-weight="bold" font-style="normal" text-anchor="start" fill="#000" textLength="20.40" lengthAdjust="spacingAndGlyphs" >MM+</text>
<text x="13.50" y="712.50" font-size="9.3" font-weight="bold" font-style="normal" text-anchor="start" fill="#000" textLength="46.40" lengthAdjust="spacingAndGlyphs" ><tspan dy="0.00">COL 40</tspan><tspan dy="0.00" font-weight="normal">μ</tspan><tspan dy="0.00">M</tspan></text>
<text x="11.50" y="723.40" font-size="9.3" font-weight="bold" font-style="normal" text-anchor="start" fill="#000" textLength="52.40" lengthAdjust="spacingAndGlyphs" ><tspan dy="0.00">+Ca</tspan><tspan dy="-3.53" font-size="5.77">2+</tspan><tspan dy="3.53"> 50mM</tspan></text>
<text x="25.30" y="761.40" font-size="9.3" font-weight="bold" font-style="normal" text-anchor="start" fill="#000" textLength="20.70" lengthAdjust="spacingAndGlyphs" >MM+</text>
<text x="10.90" y="772.90" font-size="9.3" font-weight="bold" font-style="normal" text-anchor="start" fill="#000" textLength="46.10" lengthAdjust="spacingAndGlyphs" ><tspan dy="0.00">COL 40</tspan><tspan dy="0.00" font-weight="normal">μ</tspan><tspan dy="0.00">M</tspan></text>
<text x="5.20" y="783.80" font-size="9.3" font-weight="bold" font-style="normal" text-anchor="start" fill="#000" textLength="58.70" lengthAdjust="spacingAndGlyphs" ><tspan dy="0.00">+Ca</tspan><tspan dy="-3.53" font-size="5.77">2+</tspan><tspan dy="3.53"> 100mM</tspan></text>
<text x="3.60" y="11.60" font-size="16" font-weight="bold" font-style="normal" text-anchor="start" fill="#000" textLength="14.60" lengthAdjust="spacingAndGlyphs" >a.</text>
<rect x="38.10" y="162.30" width="8.00" height="56.60" fill="#000000" stroke="#000" stroke-width="0.65"/>
<line x1="42.10" y1="161.50" x2="42.10" y2="163.10" stroke="#000" stroke-width="0.7" stroke-linecap="butt"/>
<line x1="39.90" y1="161.50" x2="44.30" y2="161.50" stroke="#000" stroke-width="0.7" stroke-linecap="butt"/>
<line x1="39.90" y1="163.10" x2="44.30" y2="163.10" stroke="#000" stroke-width="0.7" stroke-linecap="butt"/>
<circle cx="39.70" cy="162.40" r="1.15" fill="#000"/>
<circle cx="42.10" cy="161.30" r="1.15" fill="#000"/>
<circle cx="44.50" cy="162.40" r="1.15" fill="#000"/>
<rect x="50.60" y="158.30" width="8.00" height="60.60" fill="#7f7f7f" stroke="#000" stroke-width="0.65"/>
<line x1="54.60" y1="157.50" x2="54.60" y2="159.10" stroke="#000" stroke-width="0.7" stroke-linecap="butt"/>
<line x1="52.40" y1="157.50" x2="56.80" y2="157.50" stroke="#000" stroke-width="0.7" stroke-linecap="butt"/>
<line x1="52.40" y1="159.10" x2="56.80" y2="159.10" stroke="#000" stroke-width="0.7" stroke-linecap="butt"/>
<circle cx="52.20" cy="158.40" r="1.15" fill="#000"/>
<circle cx="54.60" cy="157.30" r="1.15" fill="#000"/>
<circle cx="57.00" cy="158.40" r="1.15" fill="#000"/>
<rect x="62.60" y="158.90" width="8.00" height="60.00" fill="#007f0e" stroke="#000" stroke-width="0.65"/>
<line x1="66.60" y1="157.30" x2="66.60" y2="160.50" stroke="#000" stroke-width="0.7" stroke-linecap="butt"/>
<line x1="64.40" y1="157.30" x2="68.80" y2="157.30" stroke="#000" stroke-width="0.7" stroke-linecap="butt"/>
<line x1="64.40" y1="160.50" x2="68.80" y2="160.50" stroke="#000" stroke-width="0.7" stroke-linecap="butt"/>
<circle cx="64.20" cy="159.00" r="1.15" fill="#000"/>
<circle cx="66.60" cy="157.10" r="1.15" fill="#000"/>
<circle cx="69.00" cy="159.00" r="1.15" fill="#000"/>
<rect x="74.70" y="167.70" width="8.00" height="51.20" fill="#ff8000" stroke="#000" stroke-width="0.65"/>
<line x1="78.70" y1="167.20" x2="78.70" y2="168.20" stroke="#000" stroke-width="0.7" stroke-linecap="butt"/>
<line x1="76.50" y1="167.20" x2="80.90" y2="167.20" stroke="#000" stroke-width="0.7" stroke-linecap="butt"/>
<line x1="76.50" y1="168.20" x2="80.90" y2="168.20" stroke="#000" stroke-width="0.7" stroke-linecap="butt"/>
<circle cx="76.30" cy="167.80" r="1.15" fill="#000"/>
<circle cx="78.70" cy="167.00" r="1.15" fill="#000"/>
<circle cx="81.10" cy="167.80" r="1.15" fill="#000"/>
<rect x="86.70" y="158.90" width="8.00" height="60.00" fill="#d4d4d4" stroke="#000" stroke-width="0.65"/>
<line x1="90.70" y1="158.10" x2="90.70" y2="159.70" stroke="#000" stroke-width="0.7" stroke-linecap="butt"/>
<line x1="88.50" y1="158.10" x2="92.90" y2="158.10" stroke="#000" stroke-width="0.7" stroke-linecap="butt"/>
<line x1="88.50" y1="159.70" x2="92.90" y2="159.70" stroke="#000" stroke-width="0.7" stroke-linecap="butt"/>
<circle cx="88.30" cy="159.00" r="1.15" fill="#000"/>
<circle cx="90.70" cy="157.90" r="1.15" fill="#000"/>
<circle cx="93.10" cy="159.00" r="1.15" fill="#000"/>
<rect x="98.90" y="160.30" width="8.00" height="58.60" fill="#0b7b99" stroke="#000" stroke-width="0.65"/>
<line x1="102.90" y1="159.30" x2="102.90" y2="161.30" stroke="#000" stroke-width="0.7" stroke-linecap="butt"/>
<line x1="100.70" y1="159.30" x2="105.10" y2="159.30" stroke="#000" stroke-width="0.7" stroke-linecap="butt"/>
<line x1="100.70" y1="161.30" x2="105.10" y2="161.30" stroke="#000" stroke-width="0.7" stroke-linecap="butt"/>
<circle cx="100.50" cy="160.40" r="1.15" fill="#000"/>
<circle cx="102.90" cy="159.10" r="1.15" fill="#000"/>
<circle cx="105.30" cy="160.40" r="1.15" fill="#000"/>
<rect x="111.40" y="168.30" width="8.00" height="50.60" fill="#ffff00" stroke="#000" stroke-width="0.65"/>
<line x1="115.40" y1="167.50" x2="115.40" y2="169.10" stroke="#000" stroke-width="0.7" stroke-linecap="butt"/>
<line x1="113.20" y1="167.50" x2="117.60" y2="167.50" stroke="#000" stroke-width="0.7" stroke-linecap="butt"/>
<line x1="113.20" y1="169.10" x2="117.60" y2="169.10" stroke="#000" stroke-width="0.7" stroke-linecap="butt"/>
<circle cx="113.00" cy="168.40" r="1.15" fill="#000"/>
<circle cx="115.40" cy="167.30" r="1.15" fill="#000"/>
<circle cx="117.80" cy="168.40" r="1.15" fill="#000"/>
<rect x="131.10" y="203.50" width="8.20" height="15.40" fill="#000000" stroke="#000" stroke-width="0.65"/>
<line x1="135.20" y1="203.10" x2="135.20" y2="203.90" stroke="#000" stroke-width="0.7" stroke-linecap="butt"/>
<line x1="132.94" y1="203.10" x2="137.45" y2="203.10" stroke="#000" stroke-width="0.7" stroke-linecap="butt"/>
<line x1="132.94" y1="203.90" x2="137.45" y2="203.90" stroke="#000" stroke-width="0.7" stroke-linecap="butt"/>
<circle cx="132.74" cy="203.60" r="1.15" fill="#000"/>
<circle cx="135.20" cy="202.80" r="1.15" fill="#000"/>
<circle cx="137.66" cy="203.60" r="1.15" fill="#000"/>
<rect x="143.50" y="110.10" width="8.20" height="108.80" fill="#7f7f7f" stroke="#000" stroke-width="0.65"/>
<line x1="147.60" y1="106.70" x2="147.60" y2="113.50" stroke="#000" stroke-width="0.7" stroke-linecap="butt"/>
<line x1="145.34" y1="106.70" x2="149.85" y2="106.70" stroke="#000" stroke-width="0.7" stroke-linecap="butt"/>
<line x1="145.34" y1="113.50" x2="149.85" y2="113.50" stroke="#000" stroke-width="0.7" stroke-linecap="butt"/>
<circle cx="147.60" cy="106.70" r="1.15" fill="#000"/>
<circle cx="147.60" cy="110.95" r="1.15" fill="#000"/>
<circle cx="147.60" cy="112.99" r="1.15" fill="#000"/>
<rect x="155.60" y="111.50" width="8.20" height="107.40" fill="#007f0e" stroke="#000" stroke-width="0.65"/>
<line x1="159.70" y1="108.10" x2="159.70" y2="114.90" stroke="#000" stroke-width="0.7" stroke-linecap="butt"/>
<line x1="157.44" y1="108.10" x2="161.95" y2="108.10" stroke="#000" stroke-width="0.7" stroke-linecap="butt"/>
<line x1="157.44" y1="114.90" x2="161.95" y2="114.90" stroke="#000" stroke-width="0.7" stroke-linecap="butt"/>
<circle cx="159.70" cy="108.10" r="1.15" fill="#000"/>
<circle cx="159.70" cy="112.35" r="1.15" fill="#000"/>
<circle cx="159.70" cy="114.39" r="1.15" fill="#000"/>
<rect x="167.60" y="117.60" width="8.20" height="101.30" fill="#ff8000" stroke="#000" stroke-width="0.65"/>
<line x1="171.70" y1="114.00" x2="171.70" y2="121.20" stroke="#000" stroke-width="0.7" stroke-linecap="butt"/>
<line x1="169.44" y1="114.00" x2="173.95" y2="114.00" stroke="#000" stroke-width="0.7" stroke-linecap="butt"/>
<line x1="169.44" y1="121.20" x2="173.95" y2="121.20" stroke="#000" stroke-width="0.7" stroke-linecap="butt"/>
<circle cx="171.70" cy="114.00" r="1.15" fill="#000"/>
<circle cx="171.70" cy="118.50" r="1.15" fill="#000"/>
<circle cx="171.70" cy="120.66" r="1.15" fill="#000"/>
<rect x="179.80" y="110.10" width="8.20" height="108.80" fill="#d4d4d4" stroke="#000" stroke-width="0.65"/>
<line x1="183.90" y1="106.10" x2="183.90" y2="114.10" stroke="#000" stroke-width="0.7" stroke-linecap="butt"/>
<line x1="181.65" y1="106.10" x2="186.16" y2="106.10" stroke="#000" stroke-width="0.7" stroke-linecap="butt"/>
<line x1="181.65" y1="114.10" x2="186.16" y2="114.10" stroke="#000" stroke-width="0.7" stroke-linecap="butt"/>
<circle cx="183.90" cy="106.10" r="1.15" fill="#000"/>
<circle cx="183.90" cy="111.10" r="1.15" fill="#000"/>
<circle cx="183.90" cy="113.50" r="1.15" fill="#000"/>
<rect x="191.90" y="117.20" width="8.20" height="101.70" fill="#0b7b99" stroke="#000" stroke-width="0.65"/>
<line x1="196.00" y1="114.20" x2="196.00" y2="120.20" stroke="#000" stroke-width="0.7" stroke-linecap="butt"/>
<line x1="193.75" y1="114.20" x2="198.25" y2="114.20" stroke="#000" stroke-width="0.7" stroke-linecap="butt"/>
<line x1="193.75" y1="120.20" x2="198.25" y2="120.20" stroke="#000" stroke-width="0.7" stroke-linecap="butt"/>
<circle cx="196.00" cy="114.20" r="1.15" fill="#000"/>
<circle cx="196.00" cy="117.95" r="1.15" fill="#000"/>
<circle cx="196.00" cy="119.75" r="1.15" fill="#000"/>
<rect x="204.10" y="117.60" width="8.20" height="101.30" fill="#ffff00" stroke="#000" stroke-width="0.65"/>
<line x1="208.20" y1="115.20" x2="208.20" y2="120.00" stroke="#000" stroke-width="0.7" stroke-linecap="butt"/>
<line x1="205.94" y1="115.20" x2="210.45" y2="115.20" stroke="#000" stroke-width="0.7" stroke-linecap="butt"/>
<line x1="205.94" y1="120.00" x2="210.45" y2="120.00" stroke="#000" stroke-width="0.7" stroke-linecap="butt"/>
<circle cx="205.74" cy="115.20" r="1.15" fill="#000"/>
<circle cx="208.20" cy="119.28" r="1.15" fill="#000"/>
<circle cx="210.66" cy="115.80" r="1.15" fill="#000"/>
<line x1="34.50" y1="96.40" x2="34.50" y2="219.50" stroke="#000" stroke-width="1.2" stroke-linecap="butt"/>
<line x1="33.90" y1="218.90" x2="216.40" y2="218.90" stroke="#000" stroke-width="1.2" stroke-linecap="butt"/>
<line x1="29.50" y1="218.90" x2="34.50" y2="218.90" stroke="#000" stroke-width="1.2" stroke-linecap="butt"/>
<text x="28.70" y="222.40" font-size="10.2" font-weight="bold" font-style="normal" text-anchor="end" fill="#000" textLength="15.00" lengthAdjust="spacingAndGlyphs" >0.0</text>
<line x1="29.50" y1="188.43" x2="34.50" y2="188.43" stroke="#000" stroke-width="1.2" stroke-linecap="butt"/>
<text x="28.70" y="191.93" font-size="10.2" font-weight="bold" font-style="normal" text-anchor="end" fill="#000" textLength="15.00" lengthAdjust="spacingAndGlyphs" >0.5</text>
<line x1="29.50" y1="157.95" x2="34.50" y2="157.95" stroke="#000" stroke-width="1.2" stroke-linecap="butt"/>
<text x="28.70" y="161.45" font-size="10.2" font-weight="bold" font-style="normal" text-anchor="end" fill="#000" textLength="15.00" lengthAdjust="spacingAndGlyphs" >1.0</text>
<line x1="29.50" y1="127.47" x2="34.50" y2="127.47" stroke="#000" stroke-width="1.2" stroke-linecap="butt"/>
<text x="28.70" y="130.97" font-size="10.2" font-weight="bold" font-style="normal" text-anchor="end" fill="#000" textLength="15.00" lengthAdjust="spacingAndGlyphs" >1.5</text>
<line x1="29.50" y1="97.00" x2="34.50" y2="97.00" stroke="#000" stroke-width="1.2" stroke-linecap="butt"/>
<text x="28.70" y="100.50" font-size="10.2" font-weight="bold" font-style="normal" text-anchor="end" fill="#000" textLength="15.00" lengthAdjust="spacingAndGlyphs" >2.0</text>
<line x1="78.30" y1="218.90" x2="78.30" y2="223.70" stroke="#000" stroke-width="1.2" stroke-linecap="butt"/>
<line x1="171.60" y1="218.90" x2="171.60" y2="223.70" stroke="#000" stroke-width="1.2" stroke-linecap="butt"/>
<text x="8.50" y="156.50" font-size="9.9" font-weight="bold" font-style="normal" text-anchor="middle" fill="#000" textLength="109.80" lengthAdjust="spacingAndGlyphs" transform="rotate(-90 8.50 156.50)" >Treatment/Control (cm)</text>
<text x="57.10" y="233.60" font-size="9.2" font-weight="bold" font-style="normal" text-anchor="start" fill="#000" textLength="43.00" lengthAdjust="spacingAndGlyphs" >wild-type</text>
<text x="160.20" y="233.60" font-size="9.2" font-weight="bold" font-style="normal" text-anchor="start" fill="#000" textLength="22.80" lengthAdjust="spacingAndGlyphs" ><tspan dy="0.00">Δ</tspan><tspan dy="0.00" font-weight="normal" font-style="italic">sltA</tspan></text>
<line x1="137.20" y1="95.40" x2="210.80" y2="95.40" stroke="#5a5a5a" stroke-width="1.05" stroke-linecap="butt"/>
<path d="M163.55 84.65L163.55 90.55M161.00 86.12L166.10 89.07M166.10 86.12L161.00 89.07" stroke="#000" stroke-width="1.05" fill="none" stroke-linecap="butt"/>
<circle cx="163.55" cy="87.60" r="0.79" fill="#000"/>
<path d="M170.65 84.65L170.65 90.55M168.10 86.12L173.20 89.07M173.20 86.12L168.10 89.07" stroke="#000" stroke-width="1.05" fill="none" stroke-linecap="butt"/>
<circle cx="170.65" cy="87.60" r="0.79" fill="#000"/>
<path d="M177.75 84.65L177.75 90.55M175.20 86.12L180.30 89.07M180.30 86.12L175.20 89.07" stroke="#000" stroke-width="1.05" fill="none" stroke-linecap="butt"/>
<circle cx="177.75" cy="87.60" r="0.79" fill="#000"/>
<path d="M184.85 84.65L184.85 90.55M182.30 86.12L187.40 89.07M187.40 86.12L182.30 89.07" stroke="#000" stroke-width="1.05" fill="none" stroke-linecap="butt"/>
<circle cx="184.85" cy="87.60" r="0.79" fill="#000"/>
<rect x="9.60" y="243.50" width="9.20" height="9.20" fill="#000000" stroke="#000" stroke-width="0.7"/>
<text x="25.20" y="252.50" font-size="10.0" font-weight="normal" font-style="normal" text-anchor="start" fill="#000" textLength="45.30" lengthAdjust="spacingAndGlyphs" >COL 40μM</text>
<rect x="9.60" y="255.20" width="9.20" height="9.20" fill="#7f7f7f" stroke="#000" stroke-width="0.7"/>
<text x="25.20" y="264.20" font-size="10.0" font-weight="normal" font-style="normal" text-anchor="start" fill="#000" textLength="48.00" lengthAdjust="spacingAndGlyphs" ><tspan dy="0.00">Ca</tspan><tspan dy="-3.80" font-size="6.20">2+</tspan><tspan dy="3.80"> 25mM</tspan></text>
<rect x="9.60" y="267.00" width="9.20" height="9.20" fill="#007f0e" stroke="#000" stroke-width="0.7"/>
<text x="25.20" y="276.00" font-size="10.0" font-weight="normal" font-style="normal" text-anchor="start" fill="#000" textLength="48.00" lengthAdjust="spacingAndGlyphs" ><tspan dy="0.00">Ca</tspan><tspan dy="-3.80" font-size="6.20">2+</tspan><tspan dy="3.80"> 50mM</tspan></text>
<rect x="9.60" y="278.80" width="9.20" height="9.20" fill="#d4d4d4" stroke="#000" stroke-width="0.7"/>
<text x="25.20" y="287.80" font-size="10.0" font-weight="normal" font-style="normal" text-anchor="start" fill="#000" textLength="53.00" lengthAdjust="spacingAndGlyphs" ><tspan dy="0.00">Ca</tspan><tspan dy="-3.80" font-size="6.20">2+</tspan><tspan dy="3.80"> 100mM</tspan></text>
<rect x="86.80" y="246.00" width="9.20" height="9.20" fill="#ff8000" stroke="#000" stroke-width="0.7"/>
<text x="101.70" y="255.20" font-size="10.0" font-weight="normal" font-style="normal" text-anchor="start" fill="#000" textLength="104.80" lengthAdjust="spacingAndGlyphs" ><tspan dy="0.00">COL 40μM + Ca</tspan><tspan dy="-3.80" font-size="6.20">2+</tspan><tspan dy="3.80"> 25mM</tspan></text>
<rect x="86.80" y="257.60" width="9.20" height="9.20" fill="#0b7b99" stroke="#000" stroke-width="0.7"/>
<text x="101.70" y="266.80" font-size="10.0" font-weight="normal" font-style="normal" text-anchor="start" fill="#000" textLength="104.80" lengthAdjust="spacingAndGlyphs" ><tspan dy="0.00">COL 40μM + Ca</tspan><tspan dy="-3.80" font-size="6.20">2+</tspan><tspan dy="3.80"> 50mM</tspan></text>
<rect x="86.80" y="269.40" width="9.20" height="9.20" fill="#ffff00" stroke="#000" stroke-width="0.7"/>
<text x="101.70" y="278.60" font-size="10.0" font-weight="normal" font-style="normal" text-anchor="start" fill="#000" textLength="110.00" lengthAdjust="spacingAndGlyphs" ><tspan dy="0.00">COL 40μM + Ca</tspan><tspan dy="-3.80" font-size="6.20">2+</tspan><tspan dy="3.80"> 100mM</tspan></text>
<text x="247.60" y="11.80" font-size="16" font-weight="bold" font-style="normal" text-anchor="start" fill="#000" textLength="13.80" lengthAdjust="spacingAndGlyphs" >c.</text>
<rect x="271.40" y="112.70" width="7.60" height="109.00" fill="#037d0a" stroke="#000" stroke-width="0.65"/>
<line x1="275.20" y1="112.00" x2="275.20" y2="113.40" stroke="#000" stroke-width="0.7" stroke-linecap="butt"/>
<line x1="273.11" y1="112.00" x2="277.29" y2="112.00" stroke="#000" stroke-width="0.7" stroke-linecap="butt"/>
<line x1="273.11" y1="113.40" x2="277.29" y2="113.40" stroke="#000" stroke-width="0.7" stroke-linecap="butt"/>
<circle cx="272.92" cy="112.80" r="1.15" fill="#000"/>
<circle cx="275.20" cy="111.80" r="1.15" fill="#000"/>
<circle cx="277.48" cy="112.80" r="1.15" fill="#000"/>
<rect x="283.40" y="117.70" width="7.60" height="104.00" fill="#000000" stroke="#000" stroke-width="0.65"/>
<line x1="287.20" y1="116.80" x2="287.20" y2="118.60" stroke="#000" stroke-width="0.7" stroke-linecap="butt"/>
<line x1="285.11" y1="116.80" x2="289.29" y2="116.80" stroke="#000" stroke-width="0.7" stroke-linecap="butt"/>
<line x1="285.11" y1="118.60" x2="289.29" y2="118.60" stroke="#000" stroke-width="0.7" stroke-linecap="butt"/>
<circle cx="284.92" cy="117.80" r="1.15" fill="#000"/>
<circle cx="287.20" cy="116.60" r="1.15" fill="#000"/>
<circle cx="289.48" cy="117.80" r="1.15" fill="#000"/>
<rect x="295.70" y="119.00" width="7.60" height="102.70" fill="#0b7b99" stroke="#000" stroke-width="0.65"/>
<line x1="299.50" y1="118.50" x2="299.50" y2="119.50" stroke="#000" stroke-width="0.7" stroke-linecap="butt"/>
<line x1="297.41" y1="118.50" x2="301.59" y2="118.50" stroke="#000" stroke-width="0.7" stroke-linecap="butt"/>
<line x1="297.41" y1="119.50" x2="301.59" y2="119.50" stroke="#000" stroke-width="0.7" stroke-linecap="butt"/>
<circle cx="297.22" cy="119.10" r="1.15" fill="#000"/>
<circle cx="299.50" cy="118.30" r="1.15" fill="#000"/>
<circle cx="301.78" cy="119.10" r="1.15" fill="#000"/>
<rect x="307.90" y="172.90" width="7.60" height="48.80" fill="#ff0000" stroke="#000" stroke-width="0.65"/>
<line x1="311.70" y1="170.30" x2="311.70" y2="175.50" stroke="#000" stroke-width="0.7" stroke-linecap="butt"/>
<line x1="309.61" y1="170.30" x2="313.79" y2="170.30" stroke="#000" stroke-width="0.7" stroke-linecap="butt"/>
<line x1="309.61" y1="175.50" x2="313.79" y2="175.50" stroke="#000" stroke-width="0.7" stroke-linecap="butt"/>
<circle cx="309.42" cy="170.30" r="1.15" fill="#000"/>
<circle cx="311.70" cy="174.72" r="1.15" fill="#000"/>
<circle cx="313.98" cy="170.95" r="1.15" fill="#000"/>
<rect x="320.20" y="199.20" width="7.60" height="22.50" fill="#0af80a" stroke="#000" stroke-width="0.65"/>
<line x1="324.00" y1="198.60" x2="324.00" y2="199.80" stroke="#000" stroke-width="0.7" stroke-linecap="butt"/>
<line x1="321.91" y1="198.60" x2="326.09" y2="198.60" stroke="#000" stroke-width="0.7" stroke-linecap="butt"/>
<line x1="321.91" y1="199.80" x2="326.09" y2="199.80" stroke="#000" stroke-width="0.7" stroke-linecap="butt"/>
<circle cx="321.72" cy="199.30" r="1.15" fill="#000"/>
<circle cx="324.00" cy="198.40" r="1.15" fill="#000"/>
<circle cx="326.28" cy="199.30" r="1.15" fill="#000"/>
<rect x="332.30" y="199.20" width="7.60" height="22.50" fill="#ffffff" stroke="#000" stroke-width="0.65"/>
<line x1="336.10" y1="198.60" x2="336.10" y2="199.80" stroke="#000" stroke-width="0.7" stroke-linecap="butt"/>
<line x1="334.01" y1="198.60" x2="338.19" y2="198.60" stroke="#000" stroke-width="0.7" stroke-linecap="butt"/>
<line x1="334.01" y1="199.80" x2="338.19" y2="199.80" stroke="#000" stroke-width="0.7" stroke-linecap="butt"/>
<circle cx="333.82" cy="199.30" r="1.15" fill="#000"/>
<circle cx="336.10" cy="198.40" r="1.15" fill="#000"/>
<circle cx="338.38" cy="199.30" r="1.15" fill="#000"/>
<rect x="344.50" y="205.40" width="7.60" height="16.30" fill="#2ec6f2" stroke="#000" stroke-width="0.65"/>
<line x1="348.30" y1="204.10" x2="348.30" y2="206.70" stroke="#000" stroke-width="0.7" stroke-linecap="butt"/>
<line x1="346.21" y1="204.10" x2="350.39" y2="204.10" stroke="#000" stroke-width="0.7" stroke-linecap="butt"/>
<line x1="346.21" y1="206.70" x2="350.39" y2="206.70" stroke="#000" stroke-width="0.7" stroke-linecap="butt"/>
<circle cx="346.02" cy="205.50" r="1.15" fill="#000"/>
<circle cx="348.30" cy="203.90" r="1.15" fill="#000"/>
<circle cx="350.58" cy="205.50" r="1.15" fill="#000"/>
<rect x="364.30" y="112.00" width="7.80" height="109.70" fill="#037d0a" stroke="#000" stroke-width="0.65"/>
<line x1="368.20" y1="109.80" x2="368.20" y2="114.20" stroke="#000" stroke-width="0.7" stroke-linecap="butt"/>
<line x1="366.06" y1="109.80" x2="370.34" y2="109.80" stroke="#000" stroke-width="0.7" stroke-linecap="butt"/>
<line x1="366.06" y1="114.20" x2="370.34" y2="114.20" stroke="#000" stroke-width="0.7" stroke-linecap="butt"/>
<circle cx="365.86" cy="109.80" r="1.15" fill="#000"/>
<circle cx="368.20" cy="113.54" r="1.15" fill="#000"/>
<circle cx="370.54" cy="110.35" r="1.15" fill="#000"/>
<rect x="376.30" y="117.00" width="7.80" height="104.70" fill="#000000" stroke="#000" stroke-width="0.65"/>
<line x1="380.20" y1="113.40" x2="380.20" y2="120.60" stroke="#000" stroke-width="0.7" stroke-linecap="butt"/>
<line x1="378.06" y1="113.40" x2="382.34" y2="113.40" stroke="#000" stroke-width="0.7" stroke-linecap="butt"/>
<line x1="378.06" y1="120.60" x2="382.34" y2="120.60" stroke="#000" stroke-width="0.7" stroke-linecap="butt"/>
<circle cx="380.20" cy="113.40" r="1.15" fill="#000"/>
<circle cx="380.20" cy="117.90" r="1.15" fill="#000"/>
<circle cx="380.20" cy="120.06" r="1.15" fill="#000"/>
<rect x="388.40" y="121.50" width="7.80" height="100.20" fill="#0b7b99" stroke="#000" stroke-width="0.65"/>
<line x1="392.30" y1="117.50" x2="392.30" y2="125.50" stroke="#000" stroke-width="0.7" stroke-linecap="butt"/>
<line x1="390.15" y1="117.50" x2="394.44" y2="117.50" stroke="#000" stroke-width="0.7" stroke-linecap="butt"/>
<line x1="390.15" y1="125.50" x2="394.44" y2="125.50" stroke="#000" stroke-width="0.7" stroke-linecap="butt"/>
<circle cx="392.30" cy="117.50" r="1.15" fill="#000"/>
<circle cx="392.30" cy="122.50" r="1.15" fill="#000"/>
<circle cx="392.30" cy="124.90" r="1.15" fill="#000"/>
<rect x="400.70" y="151.60" width="7.80" height="70.10" fill="#ff0000" stroke="#000" stroke-width="0.65"/>
<line x1="404.60" y1="148.20" x2="404.60" y2="155.00" stroke="#000" stroke-width="0.7" stroke-linecap="butt"/>
<line x1="402.45" y1="148.20" x2="406.74" y2="148.20" stroke="#000" stroke-width="0.7" stroke-linecap="butt"/>
<line x1="402.45" y1="155.00" x2="406.74" y2="155.00" stroke="#000" stroke-width="0.7" stroke-linecap="butt"/>
<circle cx="404.60" cy="148.20" r="1.15" fill="#000"/>
<circle cx="404.60" cy="152.45" r="1.15" fill="#000"/>
<circle cx="404.60" cy="154.49" r="1.15" fill="#000"/>
<rect x="412.70" y="155.30" width="7.80" height="66.40" fill="#0af80a" stroke="#000" stroke-width="0.65"/>
<line x1="416.60" y1="152.50" x2="416.60" y2="158.10" stroke="#000" stroke-width="0.7" stroke-linecap="butt"/>
<line x1="414.45" y1="152.50" x2="418.74" y2="152.50" stroke="#000" stroke-width="0.7" stroke-linecap="butt"/>
<line x1="414.45" y1="158.10" x2="418.74" y2="158.10" stroke="#000" stroke-width="0.7" stroke-linecap="butt"/>
<circle cx="414.26" cy="152.50" r="1.15" fill="#000"/>
<circle cx="416.60" cy="157.26" r="1.15" fill="#000"/>
<circle cx="418.94" cy="153.20" r="1.15" fill="#000"/>
<rect x="425.20" y="155.30" width="7.80" height="66.40" fill="#ffffff" stroke="#000" stroke-width="0.65"/>
<line x1="429.10" y1="146.30" x2="429.10" y2="164.30" stroke="#000" stroke-width="0.7" stroke-linecap="butt"/>
<line x1="426.95" y1="146.30" x2="431.24" y2="146.30" stroke="#000" stroke-width="0.7" stroke-linecap="butt"/>
<line x1="426.95" y1="164.30" x2="431.24" y2="164.30" stroke="#000" stroke-width="0.7" stroke-linecap="butt"/>
<circle cx="429.10" cy="146.30" r="1.15" fill="#000"/>
<circle cx="429.10" cy="157.55" r="1.15" fill="#000"/>
<circle cx="429.10" cy="162.95" r="1.15" fill="#000"/>
<rect x="437.20" y="159.10" width="7.80" height="62.60" fill="#2ec6f2" stroke="#000" stroke-width="0.65"/>
<line x1="441.10" y1="158.60" x2="441.10" y2="159.60" stroke="#000" stroke-width="0.7" stroke-linecap="butt"/>
<line x1="438.95" y1="158.60" x2="443.24" y2="158.60" stroke="#000" stroke-width="0.7" stroke-linecap="butt"/>
<line x1="438.95" y1="159.60" x2="443.24" y2="159.60" stroke="#000" stroke-width="0.7" stroke-linecap="butt"/>
<circle cx="438.76" cy="159.20" r="1.15" fill="#000"/>
<circle cx="441.10" cy="158.40" r="1.15" fill="#000"/>
<circle cx="443.44" cy="159.20" r="1.15" fill="#000"/>
<line x1="267.60" y1="98.90" x2="267.60" y2="222.30" stroke="#000" stroke-width="1.2" stroke-linecap="butt"/>
<line x1="267.00" y1="221.70" x2="449.80" y2="221.70" stroke="#000" stroke-width="1.2" stroke-linecap="butt"/>
<line x1="262.60" y1="221.70" x2="267.60" y2="221.70" stroke="#000" stroke-width="1.2" stroke-linecap="butt"/>
<text x="260.80" y="225.60" font-size="10.8" font-weight="bold" font-style="normal" text-anchor="end" fill="#000" textLength="16.60" lengthAdjust="spacingAndGlyphs" >0.0</text>
<line x1="262.60" y1="163.70" x2="267.60" y2="163.70" stroke="#000" stroke-width="1.2" stroke-linecap="butt"/>
<text x="260.80" y="167.60" font-size="10.8" font-weight="bold" font-style="normal" text-anchor="end" fill="#000" textLength="16.60" lengthAdjust="spacingAndGlyphs" >0.5</text>
<line x1="262.60" y1="105.70" x2="267.60" y2="105.70" stroke="#000" stroke-width="1.2" stroke-linecap="butt"/>
<text x="260.80" y="109.60" font-size="10.8" font-weight="bold" font-style="normal" text-anchor="end" fill="#000" textLength="16.60" lengthAdjust="spacingAndGlyphs" >1.0</text>
<line x1="311.60" y1="221.70" x2="311.60" y2="226.70" stroke="#000" stroke-width="1.2" stroke-linecap="butt"/>
<line x1="404.70" y1="221.70" x2="404.70" y2="226.70" stroke="#000" stroke-width="1.2" stroke-linecap="butt"/>
<text x="238.20" y="158.90" font-size="11.7" font-weight="bold" font-style="normal" text-anchor="middle" fill="#000" textLength="130.80" lengthAdjust="spacingAndGlyphs" transform="rotate(-90 238.20 158.90)" >Treatment/Control (cm)</text>
<text x="286.40" y="238.60" font-size="10.6" font-weight="bold" font-style="normal" text-anchor="start" fill="#000" textLength="50.40" lengthAdjust="spacingAndGlyphs" >wild-type</text>
<text x="389.50" y="238.60" font-size="10.6" font-weight="bold" font-style="normal" text-anchor="start" fill="#000" textLength="30.20" lengthAdjust="spacingAndGlyphs" ><tspan dy="0.00">Δ</tspan><tspan dy="0.00" font-weight="normal" font-style="italic">calA</tspan></text>
<polyline points="311.60,161.20 311.60,106.00 404.70,106.00 404.70,139.00" fill="none" stroke="#000" stroke-width="1.2" stroke-linejoin="miter"/>
<polyline points="323.50,98.90 323.50,88.90 416.90,88.90 416.90,142.80" fill="none" stroke="#000" stroke-width="1.2" stroke-linejoin="miter"/>
<polyline points="335.80,81.40 335.80,71.60 429.20,71.60 429.20,137.80" fill="none" stroke="#000" stroke-width="1.2" stroke-linejoin="miter"/>
<polyline points="347.80,63.80 347.80,54.10 441.50,54.10 441.50,150.30" fill="none" stroke="#000" stroke-width="1.2" stroke-linejoin="miter"/>
<path d="M347.56 95.80L347.56 101.60M345.04 97.25L350.07 100.15M350.07 97.25L345.04 100.15" stroke="#000" stroke-width="1.05" fill="none" stroke-linecap="butt"/>
<circle cx="347.56" cy="98.70" r="0.79" fill="#000"/>
<path d="M354.69 95.80L354.69 101.60M352.17 97.25L357.20 100.15M357.20 97.25L352.17 100.15" stroke="#000" stroke-width="1.05" fill="none" stroke-linecap="butt"/>
<circle cx="354.69" cy="98.70" r="0.79" fill="#000"/>
<path d="M361.81 95.80L361.81 101.60M359.30 97.25L364.33 100.15M364.33 97.25L359.30 100.15" stroke="#000" stroke-width="1.05" fill="none" stroke-linecap="butt"/>
<circle cx="361.81" cy="98.70" r="0.79" fill="#000"/>
<path d="M368.94 95.80L368.94 101.60M366.43 97.25L371.46 100.15M371.46 97.25L366.43 100.15" stroke="#000" stroke-width="1.05" fill="none" stroke-linecap="butt"/>
<circle cx="368.94" cy="98.70" r="0.79" fill="#000"/>
<path d="M359.81 78.60L359.81 84.40M357.29 80.05L362.32 82.95M362.32 80.05L357.29 82.95" stroke="#000" stroke-width="1.05" fill="none" stroke-linecap="butt"/>
<circle cx="359.81" cy="81.50" r="0.79" fill="#000"/>
<path d="M366.94 78.60L366.94 84.40M364.42 80.05L369.45 82.95M369.45 80.05L364.42 82.95" stroke="#000" stroke-width="1.05" fill="none" stroke-linecap="butt"/>
<circle cx="366.94" cy="81.50" r="0.79" fill="#000"/>
<path d="M374.06 78.60L374.06 84.40M371.55 80.05L376.58 82.95M376.58 80.05L371.55 82.95" stroke="#000" stroke-width="1.05" fill="none" stroke-linecap="butt"/>
<circle cx="374.06" cy="81.50" r="0.79" fill="#000"/>
<path d="M381.19 78.60L381.19 84.40M378.68 80.05L383.71 82.95M383.71 80.05L378.68 82.95" stroke="#000" stroke-width="1.05" fill="none" stroke-linecap="butt"/>
<circle cx="381.19" cy="81.50" r="0.79" fill="#000"/>
<path d="M371.86 61.30L371.86 67.10M369.34 62.75L374.37 65.65M374.37 62.75L369.34 65.65" stroke="#000" stroke-width="1.05" fill="none" stroke-linecap="butt"/>
<circle cx="371.86" cy="64.20" r="0.79" fill="#000"/>
<path d="M378.99 61.30L378.99 67.10M376.47 62.75L381.50 65.65M381.50 62.75L376.47 65.65" stroke="#000" stroke-width="1.05" fill="none" stroke-linecap="butt"/>
<circle cx="378.99" cy="64.20" r="0.79" fill="#000"/>
<path d="M386.12 61.30L386.12 67.10M383.60 62.75L388.63 65.65M388.63 62.75L383.60 65.65" stroke="#000" stroke-width="1.05" fill="none" stroke-linecap="butt"/>
<circle cx="386.12" cy="64.20" r="0.79" fill="#000"/>
<path d="M393.25 61.30L393.25 67.10M390.73 62.75L395.76 65.65M395.76 62.75L390.73 65.65" stroke="#000" stroke-width="1.05" fill="none" stroke-linecap="butt"/>
<circle cx="393.25" cy="64.20" r="0.79" fill="#000"/>
<path d="M384.00 44.10L384.00 49.90M381.49 45.55L386.52 48.45M386.52 45.55L381.49 48.45" stroke="#000" stroke-width="1.05" fill="none" stroke-linecap="butt"/>
<circle cx="384.00" cy="47.00" r="0.79" fill="#000"/>
<path d="M391.13 44.10L391.13 49.90M388.62 45.55L393.65 48.45M393.65 45.55L388.62 48.45" stroke="#000" stroke-width="1.05" fill="none" stroke-linecap="butt"/>
<circle cx="391.13" cy="47.00" r="0.79" fill="#000"/>
<path d="M398.26 44.10L398.26 49.90M395.75 45.55L400.78 48.45M400.78 45.55L395.75 48.45" stroke="#000" stroke-width="1.05" fill="none" stroke-linecap="butt"/>
<circle cx="398.26" cy="47.00" r="0.79" fill="#000"/>
<path d="M405.39 44.10L405.39 49.90M402.88 45.55L407.91 48.45M407.91 45.55L402.88 48.45" stroke="#000" stroke-width="1.05" fill="none" stroke-linecap="butt"/>
<circle cx="405.39" cy="47.00" r="0.79" fill="#000"/>
<rect x="251.90" y="244.40" width="8.80" height="8.80" fill="#0a540c" stroke="#000" stroke-width="0.7"/>
<text x="265.30" y="252.90" font-size="10.0" font-weight="normal" font-style="normal" text-anchor="start" fill="#000" textLength="45.50" lengthAdjust="spacingAndGlyphs" >COL 20μM</text>
<rect x="251.90" y="256.00" width="8.80" height="8.80" fill="#000000" stroke="#000" stroke-width="0.7"/>
<text x="262.60" y="264.50" font-size="10.0" font-weight="normal" font-style="normal" text-anchor="start" fill="#000" textLength="45.50" lengthAdjust="spacingAndGlyphs" >COL 40μM</text>
<rect x="251.90" y="267.80" width="8.80" height="8.80" fill="#0d566e" stroke="#000" stroke-width="0.7"/>
<text x="262.60" y="276.30" font-size="10.0" font-weight="normal" font-style="normal" text-anchor="start" fill="#000" textLength="45.50" lengthAdjust="spacingAndGlyphs" >COL 80μM</text>
<rect x="317.70" y="244.40" width="8.80" height="8.80" fill="#ff0000" stroke="#000" stroke-width="0.7"/>
<text x="328.40" y="252.90" font-size="10.0" font-weight="normal" font-style="normal" text-anchor="start" fill="#000" textLength="66.20" lengthAdjust="spacingAndGlyphs" >CAS 0.06μg/mL</text>
<rect x="317.70" y="256.00" width="8.80" height="8.80" fill="#0af80a" stroke="#000" stroke-width="0.7"/>
<text x="330.20" y="264.50" font-size="10.0" font-weight="normal" font-style="normal" text-anchor="start" fill="#000" textLength="123.60" lengthAdjust="spacingAndGlyphs" >CAS 0.06μg/mL + COL 20μM</text>
<rect x="317.70" y="267.80" width="8.80" height="8.80" fill="#ffffff" stroke="#000" stroke-width="0.7"/>
<text x="330.20" y="276.30" font-size="10.0" font-weight="normal" font-style="normal" text-anchor="start" fill="#000" textLength="123.60" lengthAdjust="spacingAndGlyphs" >CAS 0.06μg/mL + COL 40μM</text>
<rect x="317.70" y="281.00" width="8.80" height="8.80" fill="#4d9fff" stroke="#000" stroke-width="0.7"/>
<text x="330.20" y="289.50" font-size="10.0" font-weight="normal" font-style="normal" text-anchor="start" fill="#000" textLength="123.60" lengthAdjust="spacingAndGlyphs" >CAS 0.06μg/mL + COL 80μM</text>
<text x="469.00" y="11.60" font-size="16" font-weight="bold" font-style="normal" text-anchor="start" fill="#000" textLength="15.20" lengthAdjust="spacingAndGlyphs" >d.</text>
<rect x="506.60" y="106.60" width="7.80" height="113.90" fill="#037d0a" stroke="#000" stroke-width="0.65"/>
<line x1="510.50" y1="105.90" x2="510.50" y2="107.30" stroke="#000" stroke-width="0.7" stroke-linecap="butt"/>
<line x1="508.36" y1="105.90" x2="512.64" y2="105.90" stroke="#000" stroke-width="0.7" stroke-linecap="butt"/>
<line x1="508.36" y1="107.30" x2="512.64" y2="107.30" stroke="#000" stroke-width="0.7" stroke-linecap="butt"/>
<circle cx="508.16" cy="106.70" r="1.15" fill="#000"/>
<circle cx="510.50" cy="105.70" r="1.15" fill="#000"/>
<circle cx="512.84" cy="106.70" r="1.15" fill="#000"/>
<rect x="518.60" y="111.20" width="7.80" height="109.30" fill="#000000" stroke="#000" stroke-width="0.65"/>
<line x1="522.50" y1="110.50" x2="522.50" y2="111.90" stroke="#000" stroke-width="0.7" stroke-linecap="butt"/>
<line x1="520.36" y1="110.50" x2="524.64" y2="110.50" stroke="#000" stroke-width="0.7" stroke-linecap="butt"/>
<line x1="520.36" y1="111.90" x2="524.64" y2="111.90" stroke="#000" stroke-width="0.7" stroke-linecap="butt"/>
<circle cx="520.16" cy="111.30" r="1.15" fill="#000"/>
<circle cx="522.50" cy="110.30" r="1.15" fill="#000"/>
<circle cx="524.84" cy="111.30" r="1.15" fill="#000"/>
<rect x="530.90" y="112.90" width="7.80" height="107.60" fill="#0b7b99" stroke="#000" stroke-width="0.65"/>
<line x1="534.80" y1="112.40" x2="534.80" y2="113.40" stroke="#000" stroke-width="0.7" stroke-linecap="butt"/>
<line x1="532.65" y1="112.40" x2="536.94" y2="112.40" stroke="#000" stroke-width="0.7" stroke-linecap="butt"/>
<line x1="532.65" y1="113.40" x2="536.94" y2="113.40" stroke="#000" stroke-width="0.7" stroke-linecap="butt"/>
<circle cx="532.46" cy="113.00" r="1.15" fill="#000"/>
<circle cx="534.80" cy="112.20" r="1.15" fill="#000"/>
<circle cx="537.14" cy="113.00" r="1.15" fill="#000"/>
<rect x="543.00" y="169.40" width="7.80" height="51.10" fill="#ff0000" stroke="#000" stroke-width="0.65"/>
<line x1="546.90" y1="166.60" x2="546.90" y2="172.20" stroke="#000" stroke-width="0.7" stroke-linecap="butt"/>
<line x1="544.75" y1="166.60" x2="549.04" y2="166.60" stroke="#000" stroke-width="0.7" stroke-linecap="butt"/>
<line x1="544.75" y1="172.20" x2="549.04" y2="172.20" stroke="#000" stroke-width="0.7" stroke-linecap="butt"/>
<circle cx="544.56" cy="166.60" r="1.15" fill="#000"/>
<circle cx="546.90" cy="171.36" r="1.15" fill="#000"/>
<circle cx="549.24" cy="167.30" r="1.15" fill="#000"/>
<rect x="555.10" y="197.60" width="7.80" height="22.90" fill="#0af80a" stroke="#000" stroke-width="0.65"/>
<line x1="559.00" y1="197.10" x2="559.00" y2="198.10" stroke="#000" stroke-width="0.7" stroke-linecap="butt"/>
<line x1="556.86" y1="197.10" x2="561.14" y2="197.10" stroke="#000" stroke-width="0.7" stroke-linecap="butt"/>
<line x1="556.86" y1="198.10" x2="561.14" y2="198.10" stroke="#000" stroke-width="0.7" stroke-linecap="butt"/>
<circle cx="556.66" cy="197.70" r="1.15" fill="#000"/>
<circle cx="559.00" cy="196.90" r="1.15" fill="#000"/>
<circle cx="561.34" cy="197.70" r="1.15" fill="#000"/>
<rect x="567.30" y="197.60" width="7.80" height="22.90" fill="#ffffff" stroke="#000" stroke-width="0.65"/>
<line x1="571.20" y1="197.10" x2="571.20" y2="198.10" stroke="#000" stroke-width="0.7" stroke-linecap="butt"/>
<line x1="569.05" y1="197.10" x2="573.34" y2="197.10" stroke="#000" stroke-width="0.7" stroke-linecap="butt"/>
<line x1="569.05" y1="198.10" x2="573.34" y2="198.10" stroke="#000" stroke-width="0.7" stroke-linecap="butt"/>
<circle cx="568.86" cy="197.70" r="1.15" fill="#000"/>
<circle cx="571.20" cy="196.90" r="1.15" fill="#000"/>
<circle cx="573.54" cy="197.70" r="1.15" fill="#000"/>
<rect x="579.50" y="203.90" width="7.80" height="16.60" fill="#2ec6f2" stroke="#000" stroke-width="0.65"/>
<line x1="583.40" y1="202.50" x2="583.40" y2="205.30" stroke="#000" stroke-width="0.7" stroke-linecap="butt"/>
<line x1="581.25" y1="202.50" x2="585.54" y2="202.50" stroke="#000" stroke-width="0.7" stroke-linecap="butt"/>
<line x1="581.25" y1="205.30" x2="585.54" y2="205.30" stroke="#000" stroke-width="0.7" stroke-linecap="butt"/>
<circle cx="581.06" cy="204.00" r="1.15" fill="#000"/>
<circle cx="583.40" cy="202.30" r="1.15" fill="#000"/>
<circle cx="585.74" cy="204.00" r="1.15" fill="#000"/>
<rect x="599.20" y="103.80" width="8.00" height="116.70" fill="#037d0a" stroke="#000" stroke-width="0.65"/>
<line x1="603.20" y1="103.20" x2="603.20" y2="104.40" stroke="#000" stroke-width="0.7" stroke-linecap="butt"/>
<line x1="601.00" y1="103.20" x2="605.40" y2="103.20" stroke="#000" stroke-width="0.7" stroke-linecap="butt"/>
<line x1="601.00" y1="104.40" x2="605.40" y2="104.40" stroke="#000" stroke-width="0.7" stroke-linecap="butt"/>
<circle cx="600.80" cy="103.90" r="1.15" fill="#000"/>
<circle cx="603.20" cy="103.00" r="1.15" fill="#000"/>
<circle cx="605.60" cy="103.90" r="1.15" fill="#000"/>
<rect x="611.30" y="105.30" width="8.00" height="115.20" fill="#000000" stroke="#000" stroke-width="0.65"/>
<line x1="615.30" y1="104.40" x2="615.30" y2="106.20" stroke="#000" stroke-width="0.7" stroke-linecap="butt"/>
<line x1="613.10" y1="104.40" x2="617.50" y2="104.40" stroke="#000" stroke-width="0.7" stroke-linecap="butt"/>
<line x1="613.10" y1="106.20" x2="617.50" y2="106.20" stroke="#000" stroke-width="0.7" stroke-linecap="butt"/>
<circle cx="612.90" cy="105.40" r="1.15" fill="#000"/>
<circle cx="615.30" cy="104.20" r="1.15" fill="#000"/>
<circle cx="617.70" cy="105.40" r="1.15" fill="#000"/>
<rect x="623.60" y="113.40" width="8.00" height="107.10" fill="#0b7b99" stroke="#000" stroke-width="0.65"/>
<line x1="627.60" y1="110.00" x2="627.60" y2="116.80" stroke="#000" stroke-width="0.7" stroke-linecap="butt"/>
<line x1="625.40" y1="110.00" x2="629.80" y2="110.00" stroke="#000" stroke-width="0.7" stroke-linecap="butt"/>
<line x1="625.40" y1="116.80" x2="629.80" y2="116.80" stroke="#000" stroke-width="0.7" stroke-linecap="butt"/>
<circle cx="627.60" cy="110.00" r="1.15" fill="#000"/>
<circle cx="627.60" cy="114.25" r="1.15" fill="#000"/>
<circle cx="627.60" cy="116.29" r="1.15" fill="#000"/>
<rect x="636.00" y="164.40" width="8.00" height="56.10" fill="#ff0000" stroke="#000" stroke-width="0.65"/>
<line x1="640.00" y1="163.60" x2="640.00" y2="165.20" stroke="#000" stroke-width="0.7" stroke-linecap="butt"/>
<line x1="637.80" y1="163.60" x2="642.20" y2="163.60" stroke="#000" stroke-width="0.7" stroke-linecap="butt"/>
<line x1="637.80" y1="165.20" x2="642.20" y2="165.20" stroke="#000" stroke-width="0.7" stroke-linecap="butt"/>
<circle cx="637.60" cy="164.50" r="1.15" fill="#000"/>
<circle cx="640.00" cy="163.40" r="1.15" fill="#000"/>
<circle cx="642.40" cy="164.50" r="1.15" fill="#000"/>
<rect x="648.30" y="168.70" width="8.00" height="51.80" fill="#0af80a" stroke="#000" stroke-width="0.65"/>
<line x1="652.30" y1="165.70" x2="652.30" y2="171.70" stroke="#000" stroke-width="0.7" stroke-linecap="butt"/>
<line x1="650.10" y1="165.70" x2="654.50" y2="165.70" stroke="#000" stroke-width="0.7" stroke-linecap="butt"/>
<line x1="650.10" y1="171.70" x2="654.50" y2="171.70" stroke="#000" stroke-width="0.7" stroke-linecap="butt"/>
<circle cx="652.30" cy="165.70" r="1.15" fill="#000"/>
<circle cx="652.30" cy="169.45" r="1.15" fill="#000"/>
<circle cx="652.30" cy="171.25" r="1.15" fill="#000"/>
<rect x="660.50" y="173.10" width="8.00" height="47.40" fill="#ffffff" stroke="#000" stroke-width="0.65"/>
<line x1="664.50" y1="172.60" x2="664.50" y2="173.60" stroke="#000" stroke-width="0.7" stroke-linecap="butt"/>
<line x1="662.30" y1="172.60" x2="666.70" y2="172.60" stroke="#000" stroke-width="0.7" stroke-linecap="butt"/>
<line x1="662.30" y1="173.60" x2="666.70" y2="173.60" stroke="#000" stroke-width="0.7" stroke-linecap="butt"/>
<circle cx="662.10" cy="173.20" r="1.15" fill="#000"/>
<circle cx="664.50" cy="172.40" r="1.15" fill="#000"/>
<circle cx="666.90" cy="173.20" r="1.15" fill="#000"/>
<rect x="672.70" y="179.40" width="8.00" height="41.10" fill="#2ec6f2" stroke="#000" stroke-width="0.65"/>
<line x1="676.70" y1="176.80" x2="676.70" y2="182.00" stroke="#000" stroke-width="0.7" stroke-linecap="butt"/>
<line x1="674.50" y1="176.80" x2="678.90" y2="176.80" stroke="#000" stroke-width="0.7" stroke-linecap="butt"/>
<line x1="674.50" y1="182.00" x2="678.90" y2="182.00" stroke="#000" stroke-width="0.7" stroke-linecap="butt"/>
<circle cx="674.30" cy="176.80" r="1.15" fill="#000"/>
<circle cx="676.70" cy="181.22" r="1.15" fill="#000"/>
<circle cx="679.10" cy="177.45" r="1.15" fill="#000"/>
<line x1="502.40" y1="98.20" x2="502.40" y2="221.10" stroke="#000" stroke-width="1.2" stroke-linecap="butt"/>
<line x1="501.80" y1="220.50" x2="685.00" y2="220.50" stroke="#000" stroke-width="1.2" stroke-linecap="butt"/>
<line x1="497.40" y1="220.50" x2="502.40" y2="220.50" stroke="#000" stroke-width="1.2" stroke-linecap="butt"/>
<text x="496.30" y="224.10" font-size="10" font-weight="bold" font-style="normal" text-anchor="end" fill="#000" textLength="14.60" lengthAdjust="spacingAndGlyphs" >0.0</text>
<line x1="497.40" y1="159.65" x2="502.40" y2="159.65" stroke="#000" stroke-width="1.2" stroke-linecap="butt"/>
<text x="496.30" y="163.25" font-size="10" font-weight="bold" font-style="normal" text-anchor="end" fill="#000" textLength="14.60" lengthAdjust="spacingAndGlyphs" >0.5</text>
<line x1="497.40" y1="98.80" x2="502.40" y2="98.80" stroke="#000" stroke-width="1.2" stroke-linecap="butt"/>
<text x="496.30" y="102.40" font-size="10" font-weight="bold" font-style="normal" text-anchor="end" fill="#000" textLength="14.60" lengthAdjust="spacingAndGlyphs" >1.0</text>
<line x1="547.00" y1="220.50" x2="547.00" y2="225.50" stroke="#000" stroke-width="1.2" stroke-linecap="butt"/>
<line x1="639.70" y1="220.50" x2="639.70" y2="225.50" stroke="#000" stroke-width="1.2" stroke-linecap="butt"/>
<text x="476.00" y="158.80" font-size="10" font-weight="bold" font-style="normal" text-anchor="middle" fill="#000" textLength="111.50" lengthAdjust="spacingAndGlyphs" transform="rotate(-90 476.00 158.80)" >Treatment/Control (cm)</text>
<text x="524.80" y="235.00" font-size="9.2" font-weight="bold" font-style="normal" text-anchor="start" fill="#000" textLength="43.70" lengthAdjust="spacingAndGlyphs" >wild-type</text>
<text x="626.30" y="235.00" font-size="9.2" font-weight="bold" font-style="normal" text-anchor="start" fill="#000" textLength="26.70" lengthAdjust="spacingAndGlyphs" ><tspan dy="0.00">Δ</tspan><tspan dy="0.00" font-weight="normal" font-style="italic">crzA</tspan></text>
<polyline points="522.00,102.40 522.00,92.10 616.00,92.10 616.00,96.60" fill="none" stroke="#000" stroke-width="1.2" stroke-linejoin="miter"/>
<polyline points="546.90,85.00 546.90,75.20 640.30,75.20 640.30,155.80" fill="none" stroke="#000" stroke-width="1.2" stroke-linejoin="miter"/>
<polyline points="558.70,67.90 558.70,57.90 652.40,57.90 652.40,157.20" fill="none" stroke="#000" stroke-width="1.2" stroke-linejoin="miter"/>
<polyline points="570.90,50.50 570.90,41.00 664.50,41.00 664.50,165.90" fill="none" stroke="#000" stroke-width="1.2" stroke-linejoin="miter"/>
<polyline points="582.90,33.20 582.90,23.30 676.60,23.30 676.60,167.30" fill="none" stroke="#000" stroke-width="1.2" stroke-linejoin="miter"/>
<path d="M568.90 82.90L568.90 88.50M566.48 84.30L571.32 87.10M571.32 84.30L566.48 87.10" stroke="#000" stroke-width="1.0" fill="none" stroke-linecap="butt"/>
<circle cx="568.90" cy="85.70" r="0.75" fill="#000"/>
<path d="M593.60 65.20L593.60 70.80M591.18 66.60L596.02 69.40M596.02 66.60L591.18 69.40" stroke="#000" stroke-width="1.0" fill="none" stroke-linecap="butt"/>
<circle cx="593.60" cy="68.00" r="0.75" fill="#000"/>
<path d="M595.00 47.80L595.00 53.40M592.58 49.20L597.42 52.00M597.42 49.20L592.58 52.00" stroke="#000" stroke-width="1.0" fill="none" stroke-linecap="butt"/>
<circle cx="595.00" cy="50.60" r="0.75" fill="#000"/>
<path d="M602.00 47.80L602.00 53.40M599.58 49.20L604.42 52.00M604.42 49.20L599.58 52.00" stroke="#000" stroke-width="1.0" fill="none" stroke-linecap="butt"/>
<circle cx="602.00" cy="50.60" r="0.75" fill="#000"/>
<path d="M609.00 47.80L609.00 53.40M606.58 49.20L611.42 52.00M611.42 49.20L606.58 52.00" stroke="#000" stroke-width="1.0" fill="none" stroke-linecap="butt"/>
<circle cx="609.00" cy="50.60" r="0.75" fill="#000"/>
<path d="M616.00 47.80L616.00 53.40M613.58 49.20L618.42 52.00M618.42 49.20L613.58 52.00" stroke="#000" stroke-width="1.0" fill="none" stroke-linecap="butt"/>
<circle cx="616.00" cy="50.60" r="0.75" fill="#000"/>
<path d="M607.25 30.50L607.25 36.10M604.83 31.90L609.67 34.70M609.67 31.90L604.83 34.70" stroke="#000" stroke-width="1.0" fill="none" stroke-linecap="butt"/>
<circle cx="607.25" cy="33.30" r="0.75" fill="#000"/>
<path d="M614.25 30.50L614.25 36.10M611.83 31.90L616.67 34.70M616.67 31.90L611.83 34.70" stroke="#000" stroke-width="1.0" fill="none" stroke-linecap="butt"/>
<circle cx="614.25" cy="33.30" r="0.75" fill="#000"/>
<path d="M621.25 30.50L621.25 36.10M618.83 31.90L623.67 34.70M623.67 31.90L618.83 34.70" stroke="#000" stroke-width="1.0" fill="none" stroke-linecap="butt"/>
<circle cx="621.25" cy="33.30" r="0.75" fill="#000"/>
<path d="M628.25 30.50L628.25 36.10M625.83 31.90L630.67 34.70M630.67 31.90L625.83 34.70" stroke="#000" stroke-width="1.0" fill="none" stroke-linecap="butt"/>
<circle cx="628.25" cy="33.30" r="0.75" fill="#000"/>
<path d="M619.10 12.90L619.10 18.50M616.68 14.30L621.52 17.10M621.52 14.30L616.68 17.10" stroke="#000" stroke-width="1.0" fill="none" stroke-linecap="butt"/>
<circle cx="619.10" cy="15.70" r="0.75" fill="#000"/>
<path d="M626.10 12.90L626.10 18.50M623.68 14.30L628.52 17.10M628.52 14.30L623.68 17.10" stroke="#000" stroke-width="1.0" fill="none" stroke-linecap="butt"/>
<circle cx="626.10" cy="15.70" r="0.75" fill="#000"/>
<path d="M633.10 12.90L633.10 18.50M630.68 14.30L635.52 17.10M635.52 14.30L630.68 17.10" stroke="#000" stroke-width="1.0" fill="none" stroke-linecap="butt"/>
<circle cx="633.10" cy="15.70" r="0.75" fill="#000"/>
<path d="M640.10 12.90L640.10 18.50M637.68 14.30L642.52 17.10M642.52 14.30L637.68 17.10" stroke="#000" stroke-width="1.0" fill="none" stroke-linecap="butt"/>
<circle cx="640.10" cy="15.70" r="0.75" fill="#000"/>
<rect x="482.50" y="240.80" width="8.60" height="8.60" fill="#0a540c" stroke="#000" stroke-width="0.7"/>
<text x="495.30" y="249.30" font-size="10.0" font-weight="normal" font-style="normal" text-anchor="start" fill="#000" textLength="45.50" lengthAdjust="spacingAndGlyphs" >COL 20μM</text>
<rect x="482.50" y="252.90" width="8.60" height="8.60" fill="#000000" stroke="#000" stroke-width="0.7"/>
<text x="493.00" y="261.40" font-size="10.0" font-weight="normal" font-style="normal" text-anchor="start" fill="#000" textLength="45.50" lengthAdjust="spacingAndGlyphs" >COL 40μM</text>
<rect x="482.50" y="264.50" width="8.60" height="8.60" fill="#0d566e" stroke="#000" stroke-width="0.7"/>
<text x="493.00" y="273.00" font-size="10.0" font-weight="normal" font-style="normal" text-anchor="start" fill="#000" textLength="45.50" lengthAdjust="spacingAndGlyphs" >COL 80μM</text>
<rect x="548.00" y="241.00" width="8.60" height="8.60" fill="#ff0000" stroke="#000" stroke-width="0.7"/>
<text x="558.40" y="249.50" font-size="10.0" font-weight="normal" font-style="normal" text-anchor="start" fill="#000" textLength="66.20" lengthAdjust="spacingAndGlyphs" >CAS 0.06μg/mL</text>
<rect x="548.00" y="252.90" width="8.60" height="8.60" fill="#0af80a" stroke="#000" stroke-width="0.7"/>
<text x="560.80" y="261.40" font-size="10.0" font-weight="normal" font-style="normal" text-anchor="start" fill="#000" textLength="123.60" lengthAdjust="spacingAndGlyphs" >CAS 0.06μg/mL + COL 20μM</text>
<rect x="548.00" y="265.30" width="8.60" height="8.60" fill="#ffffff" stroke="#000" stroke-width="0.7"/>
<text x="560.80" y="273.80" font-size="10.0" font-weight="normal" font-style="normal" text-anchor="start" fill="#000" textLength="123.60" lengthAdjust="spacingAndGlyphs" >CAS 0.06μg/mL + COL 40μM</text>
<rect x="548.00" y="277.60" width="8.60" height="8.60" fill="#4d9fff" stroke="#000" stroke-width="0.7"/>
<text x="560.80" y="286.10" font-size="10.0" font-weight="normal" font-style="normal" text-anchor="start" fill="#000" textLength="123.60" lengthAdjust="spacingAndGlyphs" >CAS 0.06μg/mL + COL 80μM</text>
<text x="247.60" y="319.60" font-size="16" font-weight="bold" font-style="normal" text-anchor="start" fill="#000" textLength="14.20" lengthAdjust="spacingAndGlyphs" >e.</text>
<rect x="299.20" y="363.84" width="6.60" height="155.46" fill="#037d0a" stroke="#000" stroke-width="0.9"/>
<line x1="302.50" y1="362.64" x2="302.50" y2="365.04" stroke="#000" stroke-width="0.8" stroke-linecap="butt"/>
<line x1="301.20" y1="362.64" x2="303.80" y2="362.64" stroke="#000" stroke-width="0.8" stroke-linecap="butt"/>
<line x1="301.20" y1="365.04" x2="303.80" y2="365.04" stroke="#000" stroke-width="0.8" stroke-linecap="butt"/>
<circle cx="301.44" cy="362.34" r="1.3" fill="#000"/>
<circle cx="302.50" cy="363.84" r="1.3" fill="#000"/>
<circle cx="303.56" cy="363.36" r="1.3" fill="#000"/>
<rect x="309.38" y="370.70" width="6.60" height="148.60" fill="#000000" stroke="#000" stroke-width="0.9"/>
<line x1="312.68" y1="370.10" x2="312.68" y2="371.30" stroke="#000" stroke-width="0.8" stroke-linecap="butt"/>
<line x1="311.38" y1="370.10" x2="313.98" y2="370.10" stroke="#000" stroke-width="0.8" stroke-linecap="butt"/>
<line x1="311.38" y1="371.30" x2="313.98" y2="371.30" stroke="#000" stroke-width="0.8" stroke-linecap="butt"/>
<circle cx="311.62" cy="369.80" r="1.3" fill="#000"/>
<circle cx="312.68" cy="370.70" r="1.3" fill="#000"/>
<circle cx="313.74" cy="370.46" r="1.3" fill="#000"/>
<rect x="319.56" y="379.68" width="6.60" height="139.62" fill="#0b7b99" stroke="#000" stroke-width="0.9"/>
<line x1="322.86" y1="378.08" x2="322.86" y2="381.28" stroke="#000" stroke-width="0.8" stroke-linecap="butt"/>
<line x1="321.56" y1="378.08" x2="324.16" y2="378.08" stroke="#000" stroke-width="0.8" stroke-linecap="butt"/>
<line x1="321.56" y1="381.28" x2="324.16" y2="381.28" stroke="#000" stroke-width="0.8" stroke-linecap="butt"/>
<circle cx="321.80" cy="377.78" r="1.3" fill="#000"/>
<circle cx="322.86" cy="379.68" r="1.3" fill="#000"/>
<circle cx="323.92" cy="379.04" r="1.3" fill="#000"/>
<rect x="329.74" y="435.36" width="6.60" height="83.94" fill="#ff0000" stroke="#000" stroke-width="0.9"/>
<line x1="333.04" y1="431.36" x2="333.04" y2="439.36" stroke="#000" stroke-width="0.8" stroke-linecap="butt"/>
<line x1="331.74" y1="431.36" x2="334.34" y2="431.36" stroke="#000" stroke-width="0.8" stroke-linecap="butt"/>
<line x1="331.74" y1="439.36" x2="334.34" y2="439.36" stroke="#000" stroke-width="0.8" stroke-linecap="butt"/>
<circle cx="333.04" cy="431.36" r="1.3" fill="#000"/>
<circle cx="333.04" cy="434.96" r="1.3" fill="#000"/>
<circle cx="333.04" cy="438.16" r="1.3" fill="#000"/>
<rect x="339.92" y="463.94" width="6.60" height="55.36" fill="#0af80a" stroke="#000" stroke-width="0.9"/>
<line x1="343.22" y1="460.54" x2="343.22" y2="467.34" stroke="#000" stroke-width="0.8" stroke-linecap="butt"/>
<line x1="341.92" y1="460.54" x2="344.52" y2="460.54" stroke="#000" stroke-width="0.8" stroke-linecap="butt"/>
<line x1="341.92" y1="467.34" x2="344.52" y2="467.34" stroke="#000" stroke-width="0.8" stroke-linecap="butt"/>
<circle cx="343.22" cy="460.54" r="1.3" fill="#000"/>
<circle cx="343.22" cy="463.60" r="1.3" fill="#000"/>
<circle cx="343.22" cy="466.32" r="1.3" fill="#000"/>
<rect x="350.10" y="470.64" width="6.60" height="48.66" fill="#ffffff" stroke="#000" stroke-width="0.9"/>
<line x1="353.40" y1="467.84" x2="353.40" y2="473.44" stroke="#000" stroke-width="0.8" stroke-linecap="butt"/>
<line x1="352.10" y1="467.84" x2="354.70" y2="467.84" stroke="#000" stroke-width="0.8" stroke-linecap="butt"/>
<line x1="352.10" y1="473.44" x2="354.70" y2="473.44" stroke="#000" stroke-width="0.8" stroke-linecap="butt"/>
<circle cx="353.40" cy="467.84" r="1.3" fill="#000"/>
<circle cx="353.40" cy="470.36" r="1.3" fill="#000"/>
<circle cx="353.40" cy="472.60" r="1.3" fill="#000"/>
<rect x="360.28" y="474.56" width="6.60" height="44.74" fill="#27cfe0" stroke="#000" stroke-width="0.9"/>
<line x1="363.58" y1="471.36" x2="363.58" y2="477.76" stroke="#000" stroke-width="0.8" stroke-linecap="butt"/>
<line x1="362.28" y1="471.36" x2="364.88" y2="471.36" stroke="#000" stroke-width="0.8" stroke-linecap="butt"/>
<line x1="362.28" y1="477.76" x2="364.88" y2="477.76" stroke="#000" stroke-width="0.8" stroke-linecap="butt"/>
<circle cx="363.58" cy="471.36" r="1.3" fill="#000"/>
<circle cx="363.58" cy="474.24" r="1.3" fill="#000"/>
<circle cx="363.58" cy="476.80" r="1.3" fill="#000"/>
<rect x="377.80" y="426.38" width="6.60" height="92.92" fill="#037d0a" stroke="#000" stroke-width="0.9"/>
<line x1="381.10" y1="423.58" x2="381.10" y2="429.18" stroke="#000" stroke-width="0.8" stroke-linecap="butt"/>
<line x1="379.80" y1="423.58" x2="382.40" y2="423.58" stroke="#000" stroke-width="0.8" stroke-linecap="butt"/>
<line x1="379.80" y1="429.18" x2="382.40" y2="429.18" stroke="#000" stroke-width="0.8" stroke-linecap="butt"/>
<circle cx="381.10" cy="423.58" r="1.3" fill="#000"/>
<circle cx="381.10" cy="426.10" r="1.3" fill="#000"/>
<circle cx="381.10" cy="428.34" r="1.3" fill="#000"/>
<rect x="387.93" y="501.01" width="6.60" height="18.29" fill="#000000" stroke="#000" stroke-width="0.9"/>
<line x1="391.23" y1="500.21" x2="391.23" y2="501.81" stroke="#000" stroke-width="0.8" stroke-linecap="butt"/>
<line x1="389.93" y1="500.21" x2="392.53" y2="500.21" stroke="#000" stroke-width="0.8" stroke-linecap="butt"/>
<line x1="389.93" y1="501.81" x2="392.53" y2="501.81" stroke="#000" stroke-width="0.8" stroke-linecap="butt"/>
<circle cx="390.17" cy="499.91" r="1.3" fill="#000"/>
<circle cx="391.23" cy="501.01" r="1.3" fill="#000"/>
<circle cx="392.29" cy="500.69" r="1.3" fill="#000"/>
<rect x="408.19" y="408.26" width="6.60" height="111.04" fill="#ff0000" stroke="#000" stroke-width="0.9"/>
<line x1="411.49" y1="403.66" x2="411.49" y2="412.86" stroke="#000" stroke-width="0.8" stroke-linecap="butt"/>
<line x1="410.19" y1="403.66" x2="412.79" y2="403.66" stroke="#000" stroke-width="0.8" stroke-linecap="butt"/>
<line x1="410.19" y1="412.86" x2="412.79" y2="412.86" stroke="#000" stroke-width="0.8" stroke-linecap="butt"/>
<circle cx="411.49" cy="403.66" r="1.3" fill="#000"/>
<circle cx="411.49" cy="407.80" r="1.3" fill="#000"/>
<circle cx="411.49" cy="411.48" r="1.3" fill="#000"/>
<rect x="418.32" y="421.81" width="6.60" height="97.49" fill="#0af80a" stroke="#000" stroke-width="0.9"/>
<line x1="421.62" y1="417.61" x2="421.62" y2="426.01" stroke="#000" stroke-width="0.8" stroke-linecap="butt"/>
<line x1="420.32" y1="417.61" x2="422.92" y2="417.61" stroke="#000" stroke-width="0.8" stroke-linecap="butt"/>
<line x1="420.32" y1="426.01" x2="422.92" y2="426.01" stroke="#000" stroke-width="0.8" stroke-linecap="butt"/>
<circle cx="421.62" cy="417.61" r="1.3" fill="#000"/>
<circle cx="421.62" cy="421.39" r="1.3" fill="#000"/>
<circle cx="421.62" cy="424.75" r="1.3" fill="#000"/>
<rect x="456.00" y="422.79" width="6.60" height="96.51" fill="#037d0a" stroke="#000" stroke-width="0.9"/>
<line x1="459.30" y1="420.19" x2="459.30" y2="425.39" stroke="#000" stroke-width="0.8" stroke-linecap="butt"/>
<line x1="458.00" y1="420.19" x2="460.60" y2="420.19" stroke="#000" stroke-width="0.8" stroke-linecap="butt"/>
<line x1="458.00" y1="425.39" x2="460.60" y2="425.39" stroke="#000" stroke-width="0.8" stroke-linecap="butt"/>
<circle cx="459.30" cy="420.19" r="1.3" fill="#000"/>
<circle cx="459.30" cy="422.53" r="1.3" fill="#000"/>
<circle cx="459.30" cy="424.61" r="1.3" fill="#000"/>
<rect x="486.69" y="437.49" width="6.60" height="81.81" fill="#ff0000" stroke="#000" stroke-width="0.9"/>
<line x1="489.99" y1="432.49" x2="489.99" y2="442.49" stroke="#000" stroke-width="0.8" stroke-linecap="butt"/>
<line x1="488.69" y1="432.49" x2="491.29" y2="432.49" stroke="#000" stroke-width="0.8" stroke-linecap="butt"/>
<line x1="488.69" y1="442.49" x2="491.29" y2="442.49" stroke="#000" stroke-width="0.8" stroke-linecap="butt"/>
<circle cx="489.99" cy="432.49" r="1.3" fill="#000"/>
<circle cx="489.99" cy="436.99" r="1.3" fill="#000"/>
<circle cx="489.99" cy="440.99" r="1.3" fill="#000"/>
<rect x="496.92" y="438.96" width="6.60" height="80.34" fill="#0af80a" stroke="#000" stroke-width="0.9"/>
<line x1="500.22" y1="437.36" x2="500.22" y2="440.56" stroke="#000" stroke-width="0.8" stroke-linecap="butt"/>
<line x1="498.92" y1="437.36" x2="501.52" y2="437.36" stroke="#000" stroke-width="0.8" stroke-linecap="butt"/>
<line x1="498.92" y1="440.56" x2="501.52" y2="440.56" stroke="#000" stroke-width="0.8" stroke-linecap="butt"/>
<circle cx="499.16" cy="437.06" r="1.3" fill="#000"/>
<circle cx="500.22" cy="438.96" r="1.3" fill="#000"/>
<circle cx="501.28" cy="438.32" r="1.3" fill="#000"/>
<rect x="534.30" y="362.37" width="6.60" height="156.93" fill="#037d0a" stroke="#000" stroke-width="0.9"/>
<line x1="537.60" y1="361.77" x2="537.60" y2="362.97" stroke="#000" stroke-width="0.8" stroke-linecap="butt"/>
<line x1="536.30" y1="361.77" x2="538.90" y2="361.77" stroke="#000" stroke-width="0.8" stroke-linecap="butt"/>
<line x1="536.30" y1="362.97" x2="538.90" y2="362.97" stroke="#000" stroke-width="0.8" stroke-linecap="butt"/>
<circle cx="536.54" cy="361.47" r="1.3" fill="#000"/>
<circle cx="537.60" cy="362.37" r="1.3" fill="#000"/>
<circle cx="538.66" cy="362.13" r="1.3" fill="#000"/>
<rect x="544.47" y="366.78" width="6.60" height="152.52" fill="#000000" stroke="#000" stroke-width="0.9"/>
<line x1="547.77" y1="364.18" x2="547.77" y2="369.38" stroke="#000" stroke-width="0.8" stroke-linecap="butt"/>
<line x1="546.47" y1="364.18" x2="549.07" y2="364.18" stroke="#000" stroke-width="0.8" stroke-linecap="butt"/>
<line x1="546.47" y1="369.38" x2="549.07" y2="369.38" stroke="#000" stroke-width="0.8" stroke-linecap="butt"/>
<circle cx="547.77" cy="364.18" r="1.3" fill="#000"/>
<circle cx="547.77" cy="366.52" r="1.3" fill="#000"/>
<circle cx="547.77" cy="368.60" r="1.3" fill="#000"/>
<rect x="554.64" y="373.15" width="6.60" height="146.15" fill="#0b7b99" stroke="#000" stroke-width="0.9"/>
<line x1="557.94" y1="369.75" x2="557.94" y2="376.55" stroke="#000" stroke-width="0.8" stroke-linecap="butt"/>
<line x1="556.64" y1="369.75" x2="559.24" y2="369.75" stroke="#000" stroke-width="0.8" stroke-linecap="butt"/>
<line x1="556.64" y1="376.55" x2="559.24" y2="376.55" stroke="#000" stroke-width="0.8" stroke-linecap="butt"/>
<circle cx="557.94" cy="369.75" r="1.3" fill="#000"/>
<circle cx="557.94" cy="372.81" r="1.3" fill="#000"/>
<circle cx="557.94" cy="375.53" r="1.3" fill="#000"/>
<rect x="564.81" y="445.33" width="6.60" height="73.97" fill="#ff0000" stroke="#000" stroke-width="0.9"/>
<line x1="568.11" y1="444.73" x2="568.11" y2="445.93" stroke="#000" stroke-width="0.8" stroke-linecap="butt"/>
<line x1="566.81" y1="444.73" x2="569.41" y2="444.73" stroke="#000" stroke-width="0.8" stroke-linecap="butt"/>
<line x1="566.81" y1="445.93" x2="569.41" y2="445.93" stroke="#000" stroke-width="0.8" stroke-linecap="butt"/>
<circle cx="567.05" cy="444.43" r="1.3" fill="#000"/>
<circle cx="568.11" cy="445.33" r="1.3" fill="#000"/>
<circle cx="569.17" cy="445.09" r="1.3" fill="#000"/>
<rect x="574.98" y="448.92" width="6.60" height="70.38" fill="#0af80a" stroke="#000" stroke-width="0.9"/>
<line x1="578.28" y1="445.92" x2="578.28" y2="451.92" stroke="#000" stroke-width="0.8" stroke-linecap="butt"/>
<line x1="576.98" y1="445.92" x2="579.58" y2="445.92" stroke="#000" stroke-width="0.8" stroke-linecap="butt"/>
<line x1="576.98" y1="451.92" x2="579.58" y2="451.92" stroke="#000" stroke-width="0.8" stroke-linecap="butt"/>
<circle cx="578.28" cy="445.92" r="1.3" fill="#000"/>
<circle cx="578.28" cy="448.62" r="1.3" fill="#000"/>
<circle cx="578.28" cy="451.02" r="1.3" fill="#000"/>
<rect x="585.15" y="454.31" width="6.60" height="64.99" fill="#ffffff" stroke="#000" stroke-width="0.9"/>
<line x1="588.45" y1="453.71" x2="588.45" y2="454.91" stroke="#000" stroke-width="0.8" stroke-linecap="butt"/>
<line x1="587.15" y1="453.71" x2="589.75" y2="453.71" stroke="#000" stroke-width="0.8" stroke-linecap="butt"/>
<line x1="587.15" y1="454.91" x2="589.75" y2="454.91" stroke="#000" stroke-width="0.8" stroke-linecap="butt"/>
<circle cx="587.39" cy="453.41" r="1.3" fill="#000"/>
<circle cx="588.45" cy="454.31" r="1.3" fill="#000"/>
<circle cx="589.51" cy="454.07" r="1.3" fill="#000"/>
<rect x="595.32" y="463.45" width="6.60" height="55.85" fill="#27cfe0" stroke="#000" stroke-width="0.9"/>
<line x1="598.62" y1="460.85" x2="598.62" y2="466.05" stroke="#000" stroke-width="0.8" stroke-linecap="butt"/>
<line x1="597.32" y1="460.85" x2="599.92" y2="460.85" stroke="#000" stroke-width="0.8" stroke-linecap="butt"/>
<line x1="597.32" y1="466.05" x2="599.92" y2="466.05" stroke="#000" stroke-width="0.8" stroke-linecap="butt"/>
<circle cx="598.62" cy="460.85" r="1.3" fill="#000"/>
<circle cx="598.62" cy="463.19" r="1.3" fill="#000"/>
<circle cx="598.62" cy="465.27" r="1.3" fill="#000"/>
<rect x="612.20" y="373.15" width="6.60" height="146.15" fill="#037d0a" stroke="#000" stroke-width="0.9"/>
<line x1="615.50" y1="370.35" x2="615.50" y2="375.95" stroke="#000" stroke-width="0.8" stroke-linecap="butt"/>
<line x1="614.20" y1="370.35" x2="616.80" y2="370.35" stroke="#000" stroke-width="0.8" stroke-linecap="butt"/>
<line x1="614.20" y1="375.95" x2="616.80" y2="375.95" stroke="#000" stroke-width="0.8" stroke-linecap="butt"/>
<circle cx="615.50" cy="370.35" r="1.3" fill="#000"/>
<circle cx="615.50" cy="372.87" r="1.3" fill="#000"/>
<circle cx="615.50" cy="375.11" r="1.3" fill="#000"/>
<rect x="622.42" y="377.56" width="6.60" height="141.74" fill="#000000" stroke="#000" stroke-width="0.9"/>
<line x1="625.72" y1="372.56" x2="625.72" y2="382.56" stroke="#000" stroke-width="0.8" stroke-linecap="butt"/>
<line x1="624.42" y1="372.56" x2="627.02" y2="372.56" stroke="#000" stroke-width="0.8" stroke-linecap="butt"/>
<line x1="624.42" y1="382.56" x2="627.02" y2="382.56" stroke="#000" stroke-width="0.8" stroke-linecap="butt"/>
<circle cx="625.72" cy="372.56" r="1.3" fill="#000"/>
<circle cx="625.72" cy="377.06" r="1.3" fill="#000"/>
<circle cx="625.72" cy="381.06" r="1.3" fill="#000"/>
<rect x="632.64" y="389.64" width="6.60" height="129.66" fill="#0b7b99" stroke="#000" stroke-width="0.9"/>
<line x1="635.94" y1="388.04" x2="635.94" y2="391.24" stroke="#000" stroke-width="0.8" stroke-linecap="butt"/>
<line x1="634.64" y1="388.04" x2="637.24" y2="388.04" stroke="#000" stroke-width="0.8" stroke-linecap="butt"/>
<line x1="634.64" y1="391.24" x2="637.24" y2="391.24" stroke="#000" stroke-width="0.8" stroke-linecap="butt"/>
<circle cx="634.88" cy="387.74" r="1.3" fill="#000"/>
<circle cx="635.94" cy="389.64" r="1.3" fill="#000"/>
<circle cx="637.00" cy="389.00" r="1.3" fill="#000"/>
<rect x="642.86" y="429.97" width="6.60" height="89.33" fill="#ff0000" stroke="#000" stroke-width="0.9"/>
<line x1="646.16" y1="426.97" x2="646.16" y2="432.97" stroke="#000" stroke-width="0.8" stroke-linecap="butt"/>
<line x1="644.86" y1="426.97" x2="647.46" y2="426.97" stroke="#000" stroke-width="0.8" stroke-linecap="butt"/>
<line x1="644.86" y1="432.97" x2="647.46" y2="432.97" stroke="#000" stroke-width="0.8" stroke-linecap="butt"/>
<circle cx="646.16" cy="426.97" r="1.3" fill="#000"/>
<circle cx="646.16" cy="429.67" r="1.3" fill="#000"/>
<circle cx="646.16" cy="432.07" r="1.3" fill="#000"/>
<rect x="653.08" y="462.47" width="6.60" height="56.83" fill="#0af80a" stroke="#000" stroke-width="0.9"/>
<line x1="656.38" y1="461.67" x2="656.38" y2="463.27" stroke="#000" stroke-width="0.8" stroke-linecap="butt"/>
<line x1="655.08" y1="461.67" x2="657.68" y2="461.67" stroke="#000" stroke-width="0.8" stroke-linecap="butt"/>
<line x1="655.08" y1="463.27" x2="657.68" y2="463.27" stroke="#000" stroke-width="0.8" stroke-linecap="butt"/>
<circle cx="655.32" cy="461.37" r="1.3" fill="#000"/>
<circle cx="656.38" cy="462.47" r="1.3" fill="#000"/>
<circle cx="657.44" cy="462.15" r="1.3" fill="#000"/>
<rect x="663.30" y="471.45" width="6.60" height="47.85" fill="#ffffff" stroke="#000" stroke-width="0.9"/>
<line x1="666.60" y1="468.85" x2="666.60" y2="474.05" stroke="#000" stroke-width="0.8" stroke-linecap="butt"/>
<line x1="665.30" y1="468.85" x2="667.90" y2="468.85" stroke="#000" stroke-width="0.8" stroke-linecap="butt"/>
<line x1="665.30" y1="474.05" x2="667.90" y2="474.05" stroke="#000" stroke-width="0.8" stroke-linecap="butt"/>
<circle cx="666.60" cy="468.85" r="1.3" fill="#000"/>
<circle cx="666.60" cy="471.19" r="1.3" fill="#000"/>
<circle cx="666.60" cy="473.27" r="1.3" fill="#000"/>
<rect x="673.52" y="475.37" width="6.60" height="43.93" fill="#27cfe0" stroke="#000" stroke-width="0.9"/>
<line x1="676.82" y1="472.37" x2="676.82" y2="478.37" stroke="#000" stroke-width="0.8" stroke-linecap="butt"/>
<line x1="675.52" y1="472.37" x2="678.12" y2="472.37" stroke="#000" stroke-width="0.8" stroke-linecap="butt"/>
<line x1="675.52" y1="478.37" x2="678.12" y2="478.37" stroke="#000" stroke-width="0.8" stroke-linecap="butt"/>
<circle cx="676.82" cy="472.37" r="1.3" fill="#000"/>
<circle cx="676.82" cy="475.07" r="1.3" fill="#000"/>
<circle cx="676.82" cy="477.47" r="1.3" fill="#000"/>
<line x1="296.80" y1="355.00" x2="296.80" y2="520.20" stroke="#000" stroke-width="1.9" stroke-linecap="butt"/>
<line x1="295.90" y1="519.30" x2="683.50" y2="519.30" stroke="#000" stroke-width="1.9" stroke-linecap="butt"/>
<line x1="290.80" y1="519.30" x2="296.80" y2="519.30" stroke="#000" stroke-width="1.9" stroke-linecap="butt"/>
<text x="287.40" y="523.00" font-size="10.4" font-weight="bold" font-style="normal" text-anchor="end" fill="#000" textLength="15.10" lengthAdjust="spacingAndGlyphs" >0.0</text>
<line x1="290.80" y1="437.65" x2="296.80" y2="437.65" stroke="#000" stroke-width="1.9" stroke-linecap="butt"/>
<text x="287.40" y="441.35" font-size="10.4" font-weight="bold" font-style="normal" text-anchor="end" fill="#000" textLength="15.10" lengthAdjust="spacingAndGlyphs" >0.5</text>
<line x1="290.80" y1="356.00" x2="296.80" y2="356.00" stroke="#000" stroke-width="1.9" stroke-linecap="butt"/>
<text x="287.40" y="359.70" font-size="10.4" font-weight="bold" font-style="normal" text-anchor="end" fill="#000" textLength="15.10" lengthAdjust="spacingAndGlyphs" >1.0</text>
<line x1="332.90" y1="519.30" x2="332.90" y2="526.10" stroke="#000" stroke-width="1.9" stroke-linecap="butt"/>
<line x1="411.20" y1="519.30" x2="411.20" y2="526.10" stroke="#000" stroke-width="1.9" stroke-linecap="butt"/>
<line x1="489.40" y1="519.30" x2="489.40" y2="526.10" stroke="#000" stroke-width="1.9" stroke-linecap="butt"/>
<line x1="567.60" y1="519.30" x2="567.60" y2="526.10" stroke="#000" stroke-width="1.9" stroke-linecap="butt"/>
<line x1="645.90" y1="519.30" x2="645.90" y2="526.10" stroke="#000" stroke-width="1.9" stroke-linecap="butt"/>
<rect x="398.26" y="517.60" width="6.2" height="3.3" rx="1.6" fill="#000"/>
<rect x="428.65" y="517.60" width="6.2" height="3.3" rx="1.6" fill="#000"/>
<rect x="438.78" y="517.60" width="6.2" height="3.3" rx="1.6" fill="#000"/>
<rect x="466.43" y="517.60" width="6.2" height="3.3" rx="1.6" fill="#000"/>
<rect x="476.66" y="517.60" width="6.2" height="3.3" rx="1.6" fill="#000"/>
<rect x="507.35" y="517.60" width="6.2" height="3.3" rx="1.6" fill="#000"/>
<rect x="517.58" y="517.60" width="6.2" height="3.3" rx="1.6" fill="#000"/>
<text x="261.80" y="439.00" font-size="11" font-weight="bold" font-style="normal" text-anchor="middle" fill="#000" textLength="122.00" lengthAdjust="spacingAndGlyphs" transform="rotate(-90 261.80 439.00)" >Treatment/Control (cm)</text>
<text x="309.60" y="538.70" font-size="9.9" font-weight="bold" font-style="normal" text-anchor="start" fill="#000" textLength="47.20" lengthAdjust="spacingAndGlyphs" >wild-type</text>
<text x="398.00" y="539.00" font-size="11" font-weight="bold" font-style="normal" text-anchor="start" fill="#000" textLength="27.00" lengthAdjust="spacingAndGlyphs" ><tspan dy="0.00">Δ</tspan><tspan dy="0.00" font-weight="normal" font-style="italic">sltA</tspan></text>
<text x="460.30" y="539.00" font-size="11" font-weight="bold" font-style="normal" text-anchor="start" fill="#000" textLength="59.20" lengthAdjust="spacingAndGlyphs" ><tspan dy="0.00">Δ</tspan><tspan dy="0.00" font-weight="normal" font-style="italic">sltA</tspan><tspan dy="0.00"> Δ</tspan><tspan dy="0.00" font-weight="normal" font-style="italic">crzA</tspan></text>
<text x="553.20" y="539.00" font-size="11" font-weight="bold" font-style="normal" text-anchor="start" fill="#000" textLength="28.60" lengthAdjust="spacingAndGlyphs" ><tspan dy="0.00">Δ</tspan><tspan dy="0.00" font-weight="normal" font-style="italic">crzA</tspan></text>
<text x="618.20" y="539.00" font-size="11" font-weight="bold" font-style="normal" text-anchor="start" fill="#000" textLength="56.00" lengthAdjust="spacingAndGlyphs" ><tspan dy="0.00">Δ</tspan><tspan dy="0.00" font-weight="normal" font-style="italic">sltA::sltA</tspan><tspan dy="-4.18" font-size="8.00" font-weight="normal">+</tspan></text>
<polyline points="314.20,355.00 314.20,313.90 547.50,313.90 547.50,354.20" fill="none" stroke="#000" stroke-width="1.8" stroke-linejoin="miter"/>
<path d="M427.95 303.05L427.95 307.75M425.91 304.22L429.99 306.57M429.99 304.22L425.91 306.57" stroke="#000" stroke-width="0.9" fill="none" stroke-linecap="butt"/>
<circle cx="427.95" cy="305.40" r="0.68" fill="#000"/>
<path d="M433.35 303.05L433.35 307.75M431.31 304.22L435.39 306.57M435.39 304.22L431.31 306.57" stroke="#000" stroke-width="0.9" fill="none" stroke-linecap="butt"/>
<circle cx="433.35" cy="305.40" r="0.68" fill="#000"/>
<line x1="409.80" y1="379.70" x2="478.10" y2="379.70" stroke="#000" stroke-width="1.6" stroke-linecap="butt"/>
<path d="M434.75 368.55L434.75 373.45M432.62 369.77L436.87 372.23M436.87 369.77L432.62 372.23" stroke="#000" stroke-width="0.9" fill="none" stroke-linecap="butt"/>
<circle cx="434.75" cy="371.00" r="0.68" fill="#000"/>
<path d="M440.62 368.55L440.62 373.45M438.49 369.77L442.74 372.23M442.74 369.77L438.49 372.23" stroke="#000" stroke-width="0.9" fill="none" stroke-linecap="butt"/>
<circle cx="440.62" cy="371.00" r="0.68" fill="#000"/>
<path d="M446.49 368.55L446.49 373.45M444.36 369.77L448.61 372.23M448.61 369.77L444.36 372.23" stroke="#000" stroke-width="0.9" fill="none" stroke-linecap="butt"/>
<circle cx="446.49" cy="371.00" r="0.68" fill="#000"/>
<path d="M452.36 368.55L452.36 373.45M450.23 369.77L454.48 372.23M454.48 369.77L450.23 372.23" stroke="#000" stroke-width="0.9" fill="none" stroke-linecap="butt"/>
<circle cx="452.36" cy="371.00" r="0.68" fill="#000"/>
<line x1="463.40" y1="401.60" x2="488.50" y2="401.60" stroke="#000" stroke-width="1.6" stroke-linecap="butt"/>
<path d="M466.64 390.65L466.64 395.55M464.52 391.88L468.77 394.33M468.77 391.88L464.52 394.33" stroke="#000" stroke-width="0.9" fill="none" stroke-linecap="butt"/>
<circle cx="466.64" cy="393.10" r="0.68" fill="#000"/>
<path d="M472.51 390.65L472.51 395.55M470.39 391.88L474.64 394.33M474.64 391.88L470.39 394.33" stroke="#000" stroke-width="0.9" fill="none" stroke-linecap="butt"/>
<circle cx="472.51" cy="393.10" r="0.68" fill="#000"/>
<path d="M478.38 390.65L478.38 395.55M476.26 391.88L480.51 394.33M480.51 391.88L476.26 394.33" stroke="#000" stroke-width="0.9" fill="none" stroke-linecap="butt"/>
<circle cx="478.38" cy="393.10" r="0.68" fill="#000"/>
<path d="M484.25 390.65L484.25 395.55M482.13 391.88L486.38 394.33M486.38 391.88L482.13 394.33" stroke="#000" stroke-width="0.9" fill="none" stroke-linecap="butt"/>
<circle cx="484.25" cy="393.10" r="0.68" fill="#000"/>
<line x1="502.20" y1="423.60" x2="527.30" y2="423.60" stroke="#000" stroke-width="1.6" stroke-linecap="butt"/>
<path d="M505.15 412.55L505.15 417.45M503.02 413.77L507.27 416.23M507.27 413.77L503.02 416.23" stroke="#000" stroke-width="0.9" fill="none" stroke-linecap="butt"/>
<circle cx="505.15" cy="415.00" r="0.68" fill="#000"/>
<path d="M511.02 412.55L511.02 417.45M508.89 413.77L513.14 416.23M513.14 413.77L508.89 416.23" stroke="#000" stroke-width="0.9" fill="none" stroke-linecap="butt"/>
<circle cx="511.02" cy="415.00" r="0.68" fill="#000"/>
<path d="M516.88 412.55L516.88 417.45M514.76 413.77L519.01 416.23M519.01 413.77L514.76 416.23" stroke="#000" stroke-width="0.9" fill="none" stroke-linecap="butt"/>
<circle cx="516.88" cy="415.00" r="0.68" fill="#000"/>
<path d="M522.75 412.55L522.75 417.45M520.63 413.77L524.88 416.23M524.88 413.77L520.63 416.23" stroke="#000" stroke-width="0.9" fill="none" stroke-linecap="butt"/>
<circle cx="522.75" cy="415.00" r="0.68" fill="#000"/>
<line x1="577.60" y1="430.00" x2="593.80" y2="430.00" stroke="#000" stroke-width="1.6" stroke-linecap="butt"/>
<path d="M576.70 419.05L576.70 423.95M574.58 420.27L578.82 422.73M578.82 420.27L574.58 422.73" stroke="#000" stroke-width="0.9" fill="none" stroke-linecap="butt"/>
<circle cx="576.70" cy="421.50" r="0.68" fill="#000"/>
<path d="M582.40 419.05L582.40 423.95M580.28 420.27L584.52 422.73M584.52 420.27L580.28 422.73" stroke="#000" stroke-width="0.9" fill="none" stroke-linecap="butt"/>
<circle cx="582.40" cy="421.50" r="0.68" fill="#000"/>
<path d="M588.10 419.05L588.10 423.95M585.98 420.27L590.22 422.73M590.22 420.27L585.98 422.73" stroke="#000" stroke-width="0.9" fill="none" stroke-linecap="butt"/>
<circle cx="588.10" cy="421.50" r="0.68" fill="#000"/>
<path d="M593.80 419.05L593.80 423.95M591.68 420.27L595.92 422.73M595.92 420.27L591.68 422.73" stroke="#000" stroke-width="0.9" fill="none" stroke-linecap="butt"/>
<circle cx="593.80" cy="421.50" r="0.68" fill="#000"/>
<line x1="596.20" y1="451.30" x2="604.70" y2="451.30" stroke="#000" stroke-width="1.6" stroke-linecap="butt"/>
<path d="M600.00 439.85L600.00 444.75M597.88 441.07L602.12 443.53M602.12 441.07L597.88 443.53" stroke="#000" stroke-width="0.9" fill="none" stroke-linecap="butt"/>
<circle cx="600.00" cy="442.30" r="0.68" fill="#000"/>
<rect x="368.90" y="549.80" width="8.20" height="8.20" fill="#0a540c" stroke="#000" stroke-width="0.7"/>
<text x="381.00" y="558.10" font-size="10.0" font-weight="normal" font-style="normal" text-anchor="start" fill="#000" textLength="46.30" lengthAdjust="spacingAndGlyphs" >COL 20μM</text>
<rect x="368.90" y="561.40" width="8.20" height="8.20" fill="#000000" stroke="#000" stroke-width="0.7"/>
<text x="381.00" y="569.70" font-size="10.0" font-weight="normal" font-style="normal" text-anchor="start" fill="#000" textLength="46.30" lengthAdjust="spacingAndGlyphs" >COL 40μM</text>
<rect x="368.90" y="573.20" width="8.20" height="8.20" fill="#0d566e" stroke="#000" stroke-width="0.7"/>
<text x="381.00" y="581.50" font-size="10.0" font-weight="normal" font-style="normal" text-anchor="start" fill="#000" textLength="46.30" lengthAdjust="spacingAndGlyphs" >COL 80μM</text>
<rect x="368.90" y="585.20" width="8.20" height="8.20" fill="#ff0000" stroke="#000" stroke-width="0.7"/>
<text x="379.80" y="593.50" font-size="10.0" font-weight="normal" font-style="normal" text-anchor="start" fill="#000" textLength="67.20" lengthAdjust="spacingAndGlyphs" >CAS 0.06μg/mL</text>
<rect x="457.00" y="551.00" width="8.20" height="8.20" fill="#0af80a" stroke="#000" stroke-width="0.7"/>
<text x="470.20" y="559.30" font-size="10.0" font-weight="normal" font-style="normal" text-anchor="start" fill="#000" textLength="122.90" lengthAdjust="spacingAndGlyphs" >CAS 0.06μg/mL + COL 20μM</text>
<rect x="457.00" y="564.20" width="8.20" height="8.20" fill="#ffffff" stroke="#000" stroke-width="0.7"/>
<text x="470.20" y="572.50" font-size="10.0" font-weight="normal" font-style="normal" text-anchor="start" fill="#000" textLength="122.90" lengthAdjust="spacingAndGlyphs" >CAS 0.06μg/mL + COL 40μM</text>
<rect x="457.00" y="577.20" width="8.20" height="8.20" fill="#4d9fff" stroke="#000" stroke-width="0.7"/>
<text x="470.20" y="585.50" font-size="10.0" font-weight="normal" font-style="normal" text-anchor="start" fill="#000" textLength="122.90" lengthAdjust="spacingAndGlyphs" >CAS 0.06μg/mL + COL 80μM</text>
<text x="247.20" y="624.10" font-size="16" font-weight="bold" font-style="normal" text-anchor="start" fill="#000" textLength="10.20" lengthAdjust="spacingAndGlyphs" >f.</text>
<rect x="320.60" y="763.34" width="12.20" height="20.36" fill="#000000" stroke="#000" stroke-width="1.0"/>
<line x1="326.70" y1="760.44" x2="326.70" y2="766.24" stroke="#000" stroke-width="0.7" stroke-linecap="butt"/>
<line x1="323.55" y1="760.44" x2="329.85" y2="760.44" stroke="#000" stroke-width="0.7" stroke-linecap="butt"/>
<line x1="323.55" y1="766.24" x2="329.85" y2="766.24" stroke="#000" stroke-width="0.7" stroke-linecap="butt"/>
<circle cx="326.70" cy="761.94" r="1.4" fill="#000"/>
<rect x="339.70" y="705.55" width="12.20" height="78.15" fill="#0b7b99" stroke="#000" stroke-width="1.0"/>
<line x1="345.80" y1="695.35" x2="345.80" y2="715.75" stroke="#000" stroke-width="0.7" stroke-linecap="butt"/>
<line x1="342.65" y1="695.35" x2="348.95" y2="695.35" stroke="#000" stroke-width="0.7" stroke-linecap="butt"/>
<line x1="342.65" y1="715.75" x2="348.95" y2="715.75" stroke="#000" stroke-width="0.7" stroke-linecap="butt"/>
<circle cx="345.80" cy="698.45" r="1.4" fill="#000"/>
<circle cx="345.80" cy="712.05" r="1.4" fill="#000"/>
<rect x="358.80" y="690.78" width="12.20" height="92.92" fill="#027f08" stroke="#000" stroke-width="1.0"/>
<line x1="364.90" y1="687.38" x2="364.90" y2="694.18" stroke="#000" stroke-width="0.7" stroke-linecap="butt"/>
<line x1="361.75" y1="687.38" x2="368.05" y2="687.38" stroke="#000" stroke-width="0.7" stroke-linecap="butt"/>
<line x1="361.75" y1="694.18" x2="368.05" y2="694.18" stroke="#000" stroke-width="0.7" stroke-linecap="butt"/>
<circle cx="364.90" cy="688.58" r="1.4" fill="#000"/>
<circle cx="364.90" cy="691.58" r="1.4" fill="#000"/>
<rect x="377.80" y="693.07" width="12.20" height="90.63" fill="#ff0000" stroke="#000" stroke-width="1.0"/>
<line x1="383.90" y1="685.37" x2="383.90" y2="700.77" stroke="#000" stroke-width="0.7" stroke-linecap="butt"/>
<line x1="380.75" y1="685.37" x2="387.05" y2="685.37" stroke="#000" stroke-width="0.7" stroke-linecap="butt"/>
<line x1="380.75" y1="700.77" x2="387.05" y2="700.77" stroke="#000" stroke-width="0.7" stroke-linecap="butt"/>
<circle cx="383.90" cy="686.77" r="1.4" fill="#000"/>
<circle cx="383.90" cy="696.77" r="1.4" fill="#000"/>
<rect x="409.30" y="755.88" width="12.20" height="27.82" fill="#000000" stroke="#000" stroke-width="1.0"/>
<line x1="415.40" y1="750.88" x2="415.40" y2="760.88" stroke="#000" stroke-width="0.7" stroke-linecap="butt"/>
<line x1="412.25" y1="750.88" x2="418.55" y2="750.88" stroke="#000" stroke-width="0.7" stroke-linecap="butt"/>
<line x1="412.25" y1="760.88" x2="418.55" y2="760.88" stroke="#000" stroke-width="0.7" stroke-linecap="butt"/>
<circle cx="415.40" cy="752.08" r="1.4" fill="#000"/>
<rect x="428.40" y="706.26" width="12.20" height="77.44" fill="#0b7b99" stroke="#000" stroke-width="1.0"/>
<line x1="434.50" y1="701.36" x2="434.50" y2="711.16" stroke="#000" stroke-width="0.7" stroke-linecap="butt"/>
<line x1="431.35" y1="701.36" x2="437.65" y2="701.36" stroke="#000" stroke-width="0.7" stroke-linecap="butt"/>
<line x1="431.35" y1="711.16" x2="437.65" y2="711.16" stroke="#000" stroke-width="0.7" stroke-linecap="butt"/>
<circle cx="434.50" cy="702.36" r="1.4" fill="#000"/>
<circle cx="434.50" cy="708.06" r="1.4" fill="#000"/>
<rect x="447.50" y="778.25" width="12.20" height="5.45" fill="#027f08" stroke="#000" stroke-width="1.0"/>
<line x1="453.60" y1="774.55" x2="453.60" y2="781.95" stroke="#000" stroke-width="0.7" stroke-linecap="butt"/>
<line x1="450.45" y1="774.55" x2="456.75" y2="774.55" stroke="#000" stroke-width="0.7" stroke-linecap="butt"/>
<line x1="450.45" y1="781.95" x2="456.75" y2="781.95" stroke="#000" stroke-width="0.7" stroke-linecap="butt"/>
<circle cx="453.60" cy="775.75" r="1.4" fill="#000"/>
<circle cx="453.60" cy="779.45" r="1.4" fill="#000"/>
<rect x="466.60" y="706.69" width="12.20" height="77.01" fill="#ff0000" stroke="#000" stroke-width="1.0"/>
<line x1="472.70" y1="700.49" x2="472.70" y2="712.89" stroke="#000" stroke-width="0.7" stroke-linecap="butt"/>
<line x1="469.55" y1="700.49" x2="475.85" y2="700.49" stroke="#000" stroke-width="0.7" stroke-linecap="butt"/>
<line x1="469.55" y1="712.89" x2="475.85" y2="712.89" stroke="#000" stroke-width="0.7" stroke-linecap="butt"/>
<circle cx="472.70" cy="701.79" r="1.4" fill="#000"/>
<circle cx="472.70" cy="709.19" r="1.4" fill="#000"/>
<line x1="314.40" y1="668.30" x2="314.40" y2="784.40" stroke="#000" stroke-width="1.5" stroke-linecap="butt"/>
<line x1="313.70" y1="783.70" x2="486.70" y2="783.70" stroke="#000" stroke-width="1.5" stroke-linecap="butt"/>
<line x1="309.40" y1="783.70" x2="314.40" y2="783.70" stroke="#000" stroke-width="1.5" stroke-linecap="butt"/>
<text x="308.80" y="787.20" font-size="10" font-weight="bold" font-style="normal" text-anchor="end" fill="#000" textLength="5.50" lengthAdjust="spacingAndGlyphs" >0</text>
<line x1="309.40" y1="755.02" x2="314.40" y2="755.02" stroke="#000" stroke-width="1.5" stroke-linecap="butt"/>
<text x="308.80" y="758.52" font-size="10" font-weight="bold" font-style="normal" text-anchor="end" fill="#000" textLength="11.00" lengthAdjust="spacingAndGlyphs" >20</text>
<line x1="309.40" y1="726.34" x2="314.40" y2="726.34" stroke="#000" stroke-width="1.5" stroke-linecap="butt"/>
<text x="308.80" y="729.84" font-size="10" font-weight="bold" font-style="normal" text-anchor="end" fill="#000" textLength="11.00" lengthAdjust="spacingAndGlyphs" >40</text>
<line x1="309.40" y1="697.66" x2="314.40" y2="697.66" stroke="#000" stroke-width="1.5" stroke-linecap="butt"/>
<text x="308.80" y="701.16" font-size="10" font-weight="bold" font-style="normal" text-anchor="end" fill="#000" textLength="11.00" lengthAdjust="spacingAndGlyphs" >60</text>
<line x1="309.40" y1="668.98" x2="314.40" y2="668.98" stroke="#000" stroke-width="1.5" stroke-linecap="butt"/>
<text x="308.80" y="672.48" font-size="10" font-weight="bold" font-style="normal" text-anchor="end" fill="#000" textLength="11.00" lengthAdjust="spacingAndGlyphs" >80</text>
<line x1="354.80" y1="783.70" x2="354.80" y2="788.50" stroke="#000" stroke-width="1.5" stroke-linecap="butt"/>
<line x1="444.00" y1="783.70" x2="444.00" y2="788.50" stroke="#000" stroke-width="1.5" stroke-linecap="butt"/>
<text x="281.80" y="725.00" font-size="10.4" font-weight="bold" font-style="normal" text-anchor="middle" fill="#000" textLength="132.00" lengthAdjust="spacingAndGlyphs" transform="rotate(-90 281.80 725.00)" >CrzA nuclear localization (%)</text>
<text x="331.20" y="799.30" font-size="11.4" font-weight="bold" font-style="normal" text-anchor="start" fill="#000" textLength="14.00" lengthAdjust="spacingAndGlyphs" >WT</text>
<text x="345.90" y="792.60" font-size="6.6" font-weight="normal" font-style="normal" text-anchor="start" fill="#000" textLength="33.80" lengthAdjust="spacingAndGlyphs" >CrzA-GFP</text>
<text x="416.20" y="799.00" font-size="11.4" font-weight="bold" font-style="italic" text-anchor="start" fill="#000" textLength="22.00" lengthAdjust="spacingAndGlyphs" >ΔsltA</text>
<text x="438.80" y="792.60" font-size="6.6" font-weight="normal" font-style="normal" text-anchor="start" fill="#000" textLength="33.50" lengthAdjust="spacingAndGlyphs" >CrzA-GFP</text>
<polyline points="326.40,758.80 326.40,674.20 345.70,674.20 345.70,689.50" fill="none" stroke="#2a2a2a" stroke-width="0.65" stroke-linejoin="miter"/>
<polyline points="326.40,661.80 326.40,656.20 364.80,656.20 364.80,681.60" fill="none" stroke="#2a2a2a" stroke-width="0.65" stroke-linejoin="miter"/>
<polyline points="326.40,650.10 326.40,638.20 383.60,638.20 383.60,679.60" fill="none" stroke="#2a2a2a" stroke-width="0.65" stroke-linejoin="miter"/>
<polyline points="364.80,625.80 364.80,620.50 453.60,620.50 453.60,625.80" fill="none" stroke="#2a2a2a" stroke-width="0.65" stroke-linejoin="miter"/>
<polyline points="415.40,745.20 415.40,674.20 434.40,674.20 434.40,694.70" fill="none" stroke="#2a2a2a" stroke-width="0.65" stroke-linejoin="miter"/>
<polyline points="415.40,661.80 415.40,656.20 453.60,656.20 453.60,768.80" fill="none" stroke="#2a2a2a" stroke-width="0.65" stroke-linejoin="miter"/>
<polyline points="415.40,650.10 415.40,638.20 472.50,638.20 472.50,694.70" fill="none" stroke="#2a2a2a" stroke-width="0.65" stroke-linejoin="miter"/>
<path d="M330.23 667.25L330.23 670.15M328.97 667.98L331.48 669.43M331.48 667.98L328.97 669.43" stroke="#000" stroke-width="0.6" fill="none" stroke-linecap="butt"/>
<circle cx="330.23" cy="668.70" r="0.45" fill="#000"/>
<path d="M334.08 667.25L334.08 670.15M332.82 667.98L335.33 669.43M335.33 667.98L332.82 669.43" stroke="#000" stroke-width="0.6" fill="none" stroke-linecap="butt"/>
<circle cx="334.08" cy="668.70" r="0.45" fill="#000"/>
<path d="M337.93 667.25L337.93 670.15M336.67 667.98L339.18 669.43M339.18 667.98L336.67 669.43" stroke="#000" stroke-width="0.6" fill="none" stroke-linecap="butt"/>
<circle cx="337.93" cy="668.70" r="0.45" fill="#000"/>
<path d="M341.78 667.25L341.78 670.15M340.52 667.98L343.03 669.43M343.03 667.98L340.52 669.43" stroke="#000" stroke-width="0.6" fill="none" stroke-linecap="butt"/>
<circle cx="341.78" cy="668.70" r="0.45" fill="#000"/>
<path d="M339.68 649.15L339.68 652.05M338.42 649.88L340.93 651.33M340.93 649.88L338.42 651.33" stroke="#000" stroke-width="0.6" fill="none" stroke-linecap="butt"/>
<circle cx="339.68" cy="650.60" r="0.45" fill="#000"/>
<path d="M343.53 649.15L343.53 652.05M342.27 649.88L344.78 651.33M344.78 649.88L342.27 651.33" stroke="#000" stroke-width="0.6" fill="none" stroke-linecap="butt"/>
<circle cx="343.53" cy="650.60" r="0.45" fill="#000"/>
<path d="M347.38 649.15L347.38 652.05M346.12 649.88L348.63 651.33M348.63 649.88L346.12 651.33" stroke="#000" stroke-width="0.6" fill="none" stroke-linecap="butt"/>
<circle cx="347.38" cy="650.60" r="0.45" fill="#000"/>
<path d="M351.23 649.15L351.23 652.05M349.97 649.88L352.48 651.33M352.48 649.88L349.97 651.33" stroke="#000" stroke-width="0.6" fill="none" stroke-linecap="butt"/>
<circle cx="351.23" cy="650.60" r="0.45" fill="#000"/>
<path d="M349.28 631.25L349.28 634.15M348.02 631.98L350.53 633.43M350.53 631.98L348.02 633.43" stroke="#000" stroke-width="0.6" fill="none" stroke-linecap="butt"/>
<circle cx="349.28" cy="632.70" r="0.45" fill="#000"/>
<path d="M353.13 631.25L353.13 634.15M351.87 631.98L354.38 633.43M354.38 631.98L351.87 633.43" stroke="#000" stroke-width="0.6" fill="none" stroke-linecap="butt"/>
<circle cx="353.13" cy="632.70" r="0.45" fill="#000"/>
<path d="M356.98 631.25L356.98 634.15M355.72 631.98L358.23 633.43M358.23 631.98L355.72 633.43" stroke="#000" stroke-width="0.6" fill="none" stroke-linecap="butt"/>
<circle cx="356.98" cy="632.70" r="0.45" fill="#000"/>
<path d="M360.83 631.25L360.83 634.15M359.57 631.98L362.08 633.43M362.08 631.98L359.57 633.43" stroke="#000" stroke-width="0.6" fill="none" stroke-linecap="butt"/>
<circle cx="360.83" cy="632.70" r="0.45" fill="#000"/>
<path d="M403.12 613.45L403.12 616.35M401.87 614.17L404.38 615.62M404.38 614.17L401.87 615.62" stroke="#000" stroke-width="0.6" fill="none" stroke-linecap="butt"/>
<circle cx="403.12" cy="614.90" r="0.45" fill="#000"/>
<path d="M406.98 613.45L406.98 616.35M405.72 614.17L408.23 615.62M408.23 614.17L405.72 615.62" stroke="#000" stroke-width="0.6" fill="none" stroke-linecap="butt"/>
<circle cx="406.98" cy="614.90" r="0.45" fill="#000"/>
<path d="M410.82 613.45L410.82 616.35M409.57 614.17L412.08 615.62M412.08 614.17L409.57 615.62" stroke="#000" stroke-width="0.6" fill="none" stroke-linecap="butt"/>
<circle cx="410.82" cy="614.90" r="0.45" fill="#000"/>
<path d="M414.68 613.45L414.68 616.35M413.42 614.17L415.93 615.62M415.93 614.17L413.42 615.62" stroke="#000" stroke-width="0.6" fill="none" stroke-linecap="butt"/>
<circle cx="414.68" cy="614.90" r="0.45" fill="#000"/>
<path d="M421.05 667.25L421.05 670.15M419.79 667.98L422.31 669.43M422.31 667.98L419.79 669.43" stroke="#000" stroke-width="0.6" fill="none" stroke-linecap="butt"/>
<circle cx="421.05" cy="668.70" r="0.45" fill="#000"/>
<path d="M424.90 667.25L424.90 670.15M423.64 667.98L426.16 669.43M426.16 667.98L423.64 669.43" stroke="#000" stroke-width="0.6" fill="none" stroke-linecap="butt"/>
<circle cx="424.90" cy="668.70" r="0.45" fill="#000"/>
<path d="M428.75 667.25L428.75 670.15M427.49 667.98L430.01 669.43M430.01 667.98L427.49 669.43" stroke="#000" stroke-width="0.6" fill="none" stroke-linecap="butt"/>
<circle cx="428.75" cy="668.70" r="0.45" fill="#000"/>
<path d="M434.40 649.15L434.40 652.05M433.14 649.88L435.66 651.33M435.66 649.88L433.14 651.33" stroke="#000" stroke-width="0.6" fill="none" stroke-linecap="butt"/>
<circle cx="434.40" cy="650.60" r="0.45" fill="#000"/>
<path d="M440.00 631.45L440.00 634.35M438.74 632.17L441.26 633.62M441.26 632.17L438.74 633.62" stroke="#000" stroke-width="0.6" fill="none" stroke-linecap="butt"/>
<circle cx="440.00" cy="632.90" r="0.45" fill="#000"/>
<path d="M443.85 631.45L443.85 634.35M442.59 632.17L445.11 633.62M445.11 632.17L442.59 633.62" stroke="#000" stroke-width="0.6" fill="none" stroke-linecap="butt"/>
<circle cx="443.85" cy="632.90" r="0.45" fill="#000"/>
<path d="M447.70 631.45L447.70 634.35M446.44 632.17L448.96 633.62M448.96 632.17L446.44 633.62" stroke="#000" stroke-width="0.6" fill="none" stroke-linecap="butt"/>
<circle cx="447.70" cy="632.90" r="0.45" fill="#000"/>
<rect x="512.80" y="641.80" width="8.80" height="8.80" fill="#000000" stroke="#000" stroke-width="0.7"/>
<text x="524.80" y="649.20" font-size="10.0" font-weight="normal" font-style="normal" text-anchor="start" fill="#000" textLength="30.00" lengthAdjust="spacingAndGlyphs" >Control</text>
<rect x="512.80" y="654.00" width="8.80" height="8.80" fill="#0d566e" stroke="#000" stroke-width="0.7"/>
<text x="526.50" y="661.70" font-size="10.0" font-weight="normal" font-style="normal" text-anchor="start" fill="#000" textLength="53.20" lengthAdjust="spacingAndGlyphs" ><tspan dy="0.00">CaCl</tspan><tspan dy="2.20" font-size="6.20">2</tspan><tspan dy="-2.20"> 50mM</tspan></text>
<rect x="512.80" y="665.70" width="8.80" height="8.80" fill="#0a540c" stroke="#000" stroke-width="0.7"/>
<text x="526.50" y="673.70" font-size="10.0" font-weight="normal" font-style="normal" text-anchor="start" fill="#000" textLength="45.30" lengthAdjust="spacingAndGlyphs" >COL 40μM</text>
<rect x="512.80" y="677.80" width="8.80" height="8.80" fill="#ff0000" stroke="#000" stroke-width="0.7"/>
<text x="526.50" y="685.70" font-size="10.0" font-weight="normal" font-style="normal" text-anchor="start" fill="#000" textLength="110.70" lengthAdjust="spacingAndGlyphs" ><tspan dy="0.00">COL 40μM + CaCl</tspan><tspan dy="2.20" font-size="6.20">2</tspan><tspan dy="-2.20"> 50mM</tspan></text>
</svg>
</body></html>
